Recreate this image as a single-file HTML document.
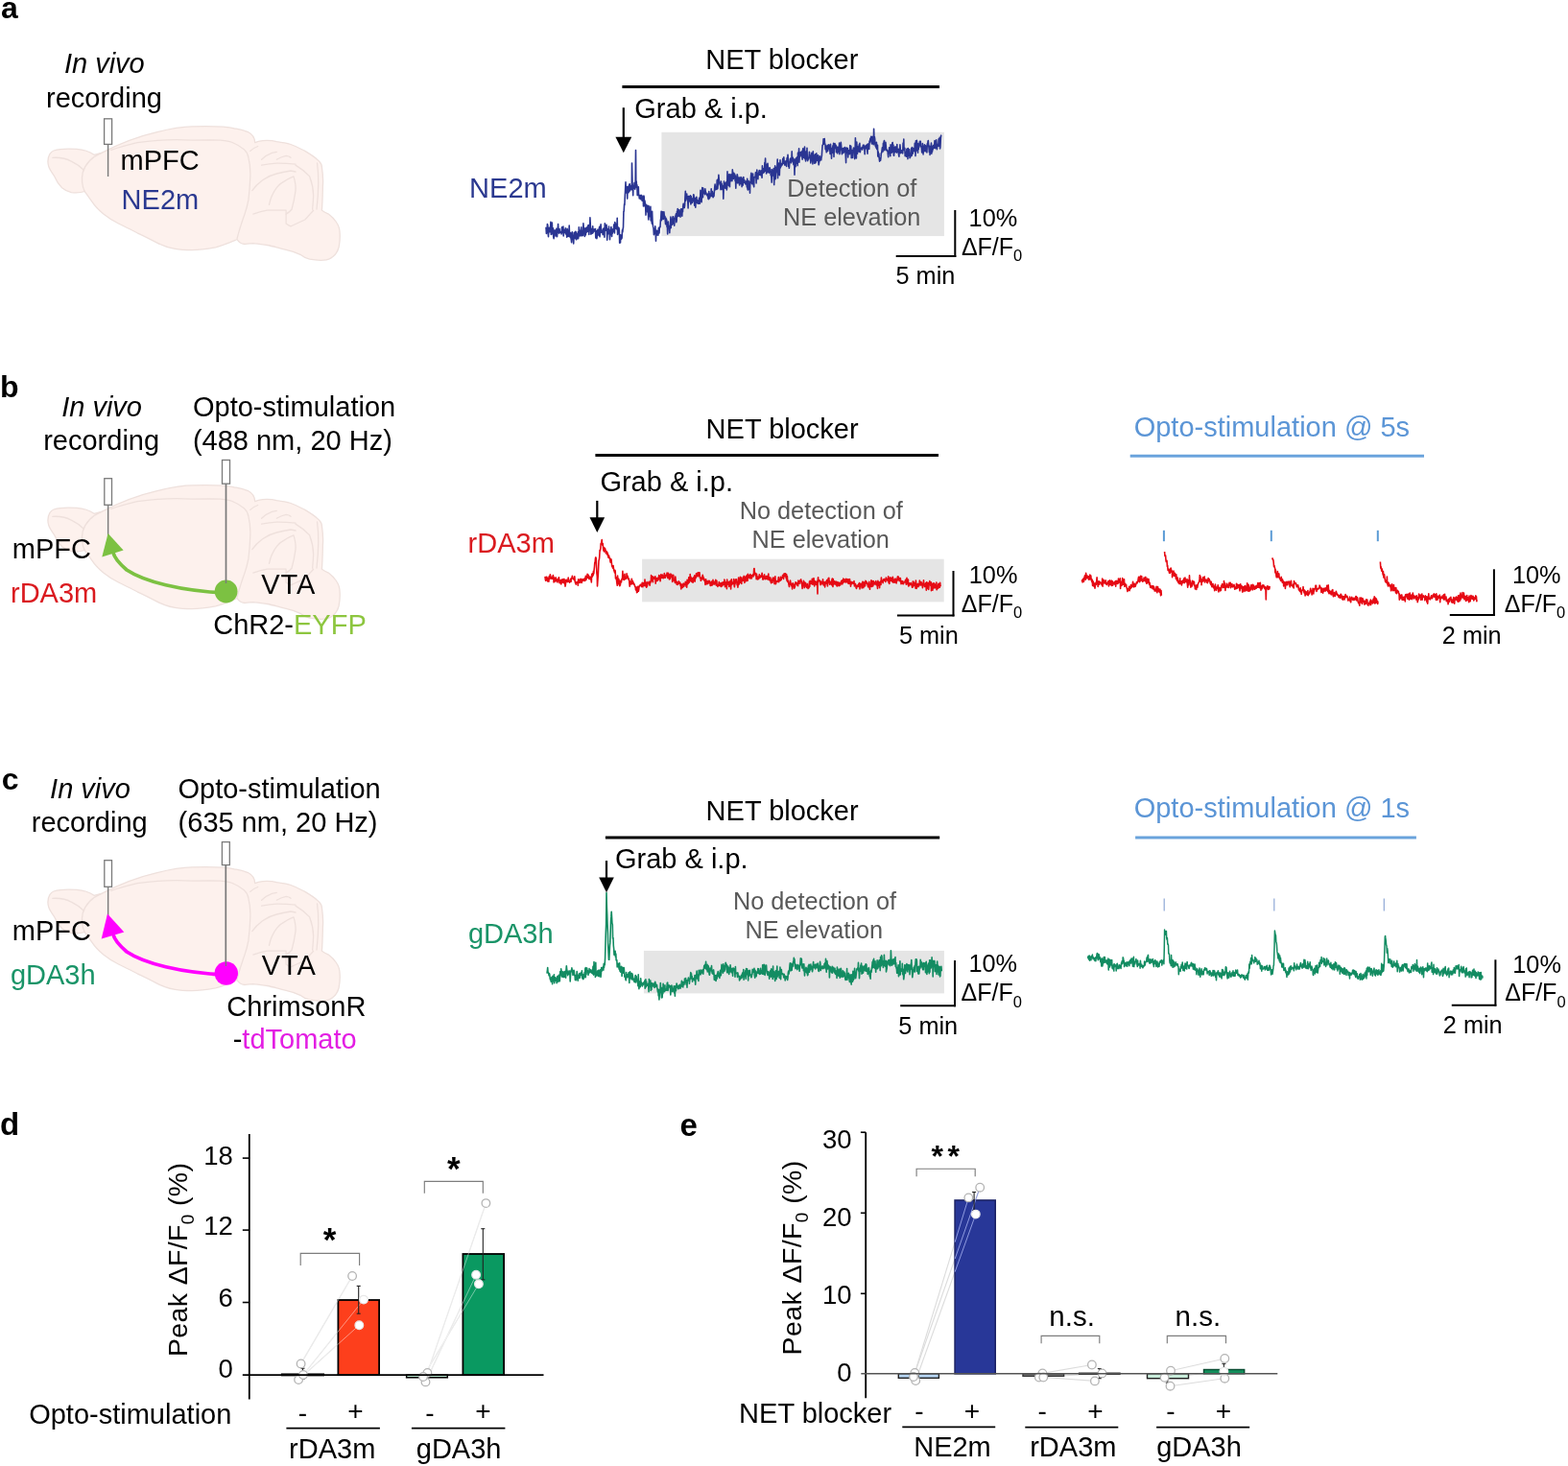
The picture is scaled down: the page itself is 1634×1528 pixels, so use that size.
<!DOCTYPE html>
<html><head><meta charset="utf-8"><title>Figure</title>
<style>html,body{margin:0;padding:0;background:#fff;}svg{display:block;}</style>
</head><body>
<svg width="1634" height="1528" viewBox="0 0 1634 1528" font-family="Liberation Sans, Arial, Helvetica, sans-serif" font-size="29">
<rect width="1634" height="1528" fill="#fff"/>
<text x="1.1" y="19.0" font-size="32" font-weight="bold">a</text>
<g transform="translate(0,0)"><g fill="#fdf1ed" stroke="#eee0dc" stroke-width="1.3" stroke-linejoin="round" stroke-linecap="round">
<path d="M49.9,168.2 C50,162 53,158 56,157 C62,155 72,154.8 80,155.4 C88,156 94,158.5 98,161.3 L105.8,159.3 C120,152 140,143 162.8,137.8 C178,134 190,132 200,131.9 C215,131.5 235,131.5 244.2,133.8 C252,135.5 257,136.5 258.9,137.8 C263,140 265.5,144 265.7,148.6 C268,147.5 271,146.8 273.6,146.6 C280,146.2 286,147 288.3,147.6 C295,148.5 299,149.3 303,150.5 C310,153 314,155.5 317.8,157.4 C323,160.5 327,163 330.5,166.2 C334,169 335.5,171 335.4,174.1 C336.5,182 336.8,190 336.4,193.7 C336.2,202 336,212 335.4,219.2 C338,221 340,222 342.3,223.1 C346,226 348,228 350.1,231 C353,235 354,239 354.1,242.8 C354.5,248 354,253 353.1,257.5 C352,262 350,265 347.2,267.3 C344,270 341,271 337.4,271.2 C332,271.5 327,271 322.7,270.2 C318,269 315,267 312.9,265.3 C308,263 303,261.5 298.1,260.4 C290,258.5 284,256.5 278.5,255.5 C272,254.5 268,253.8 263.8,253.6 C260,253.7 257,254.2 255,254.5 C251,254 248.5,252 247,249.5 C241,252 232,256 224.5,257.8 C215,259.5 207,260.5 200,260.6 C192,260.6 187,260.2 182.4,259.4 C175,258 168,255.5 162.8,252.6 C155,248.5 149,245.5 143.1,242.8 C136,239 129,236 123.5,233 C117,230 112,226.5 107.8,223.1 C103,219 99,215 96,210.4 C93,206.5 90.5,202.5 88.2,199.5 C84,201 80,201.2 74.4,200.6 C70,199.5 67,197.8 64.6,195.7 C61,192 58.5,188 56.8,183.9 C54,180 52,177 50.9,174.1 C50.2,172 49.9,170 49.9,168.2 Z"/>
<g fill="none">
<path d="M105.8,159.3 C97,163 89,170 86.2,180 C84.8,187 85.5,194 88.2,199.5"/>
<path d="M54.8,164.3 C62,164 70,165.5 74.4,168.2 C80,171 84,174 87,177"/>
<path d="M115.7,156.4 C125,153 135,150.5 143.1,148.6 C165,145.5 185,145 200,146.1 C215,146 225,146 229.4,146.1 C236,146.5 241,147.5 244.2,149.5 C248,151 251,153 254,155.4 C257,158 258.5,161 258.9,164.3 C261,172 261,178 260.8,183.9 C260.5,193 259.8,201 258.9,208.4 C257.8,214 256.5,219 255,223.1 C253,229 250,237 247.1,248.5"/>
<path d="M260.8,157.4 C263,155 266,153.5 268.7,152.5"/>
<path d="M262.8,198.6 C266,194 270,190.5 273.6,187.8 C279,184 284,182 288.3,181 C294,179.5 299,178.5 303,178 L308,179"/>
<path d="M280.5,213.3 C282,206 285,200 288.3,195.7 C291,192 294.5,189.5 298.1,187.8 C301,186 303.5,184.8 306,183.9 C307.5,189 308.5,194 308,198.6 C307,206 305.5,213 304,218.2 C302,220.5 300,222 298.1,223.1"/>
<path d="M263.8,223.1 C270,221 275,219.8 278.5,219.2 C285,219 292,219 298.1,219.2 L298.1,233 C300,234.5 301.5,235.5 303,235.9 C308,233.5 313,231 317.8,229 C321,226 324,222 326.6,219.2"/>
<path d="M308,172.1 C313,175 318,179 322.7,183.9 C325,190 326.5,197 326.6,203.5 C326.5,209 326,214 325.6,218.2"/>
<path d="M272.6,166.2 C276,163 280,160.5 283.4,159.3 L288.3,158.4"/>
<path d="M288.3,166.2 C291,164.5 295,163 298.1,162.3 C300,162.5 302,163.3 303,164.3"/>
<path d="M272.6,172.1 C278,171 283,170.3 288.3,170.1 C295,170 302,170.5 308,171.1"/>
<path d="M330.5,170 C332,180 332,200 330,218"/>
</g></g></g>
<text x="66.9" y="76.0" font-style="italic">In vivo</text>
<text x="48.0" y="111.8">recording</text>
<rect x="108.6" y="123.8" width="8.0" height="26.60000000000001" fill="#fff" stroke="#7a7a7a" stroke-width="1.3"/>
<line x1="112.6" y1="150.4" x2="112.6" y2="184" stroke="#7a7a7a" stroke-width="1.4"/>
<text x="125.5" y="177.0">mPFC</text>
<text x="126.6" y="218.1" fill="#2b3990">NE2m</text>
<text x="735.3" y="72.0">NET blocker</text>
<line x1="648.4" y1="90.5" x2="979" y2="90.5" stroke="#000" stroke-width="3"/>
<text x="661.3" y="123.2">Grab &amp; i.p.</text>
<rect x="689.4" y="137.8" width="294.5" height="108.3" fill="#e5e5e5"/>
<text x="820.3" y="204.8" font-size="25.3" fill="#595959">Detection of</text>
<text x="816.0" y="235.0" font-size="25.3" fill="#595959">NE elevation</text>
<text x="489.1" y="206.4" fill="#2b3990">NE2m</text>
<path d="M569.0,236.7 569.4,243.4 569.7,240.8 570.1,240.7 570.4,233.6 570.8,234.6 571.1,243.2 571.5,246.6 571.8,238.2 572.2,237.3 572.5,241.1 572.9,241.7 573.2,241.7 573.6,237.4 573.9,231.4 574.3,244.5 574.6,237.0 575.0,244.1 575.3,232.0 575.7,241.9 576.0,239.3 576.4,237.9 576.7,246.7 577.1,248.6 577.4,241.7 577.8,246.6 578.1,239.8 578.5,241.4 578.8,242.6 579.2,242.0 579.5,245.6 579.9,238.3 580.2,246.6 580.6,246.5 580.9,241.9 581.3,238.1 581.6,233.5 582.0,242.5 582.3,240.0 582.7,243.1 583.0,238.5 583.4,242.4 583.7,241.8 584.1,241.6 584.4,242.2 584.8,241.8 585.1,244.0 585.5,236.9 585.8,242.4 586.2,240.2 586.5,238.1 586.9,236.1 587.2,246.0 587.6,241.8 587.9,239.5 588.3,242.3 588.6,242.5 589.0,240.8 589.3,237.8 589.7,243.9 590.0,242.8 590.4,242.4 590.7,247.3 591.1,238.4 591.4,239.7 591.8,244.0 592.1,246.5 592.5,245.7 592.8,246.2 593.2,235.1 593.5,245.8 593.9,245.9 594.2,247.4 594.6,242.6 594.9,247.7 595.3,250.0 595.6,252.7 596.0,247.7 596.3,241.7 596.7,247.1 597.0,249.3 597.4,248.7 597.7,254.0 598.1,245.7 598.4,242.4 598.8,243.7 599.1,248.5 599.5,242.6 599.8,241.4 600.2,242.0 600.5,249.8 600.9,246.0 601.2,243.9 601.6,248.7 601.9,248.3 602.3,241.9 602.6,248.6 603.0,246.0 603.3,236.7 603.7,239.8 604.0,245.1 604.4,245.8 604.7,242.8 605.1,240.0 605.4,244.9 605.8,236.9 606.1,245.9 606.5,242.9 606.8,243.0 607.2,240.2 607.5,245.4 607.9,232.7 608.2,238.0 608.6,243.3 608.9,238.1 609.3,246.4 609.6,242.4 610.0,237.8 610.3,244.9 610.7,240.1 611.0,242.4 611.4,237.3 611.7,236.9 612.1,241.4 612.4,238.7 612.8,235.1 613.1,234.5 613.5,240.2 613.8,244.5 614.2,234.5 614.5,240.5 614.9,226.7 615.2,232.7 615.6,240.6 615.9,244.2 616.3,238.5 616.6,240.6 617.0,239.9 617.3,243.3 617.7,235.7 618.0,242.7 618.4,238.9 618.7,239.6 619.1,241.1 619.4,240.6 619.8,238.7 620.1,240.9 620.5,238.5 620.8,248.0 621.2,245.1 621.5,240.9 621.9,248.6 622.2,247.2 622.6,243.8 622.9,239.4 623.3,241.9 623.6,242.6 624.0,245.1 624.3,238.4 624.7,236.3 625.0,246.8 625.4,242.9 625.7,238.6 626.1,233.9 626.4,239.5 626.8,242.3 627.1,241.3 627.5,242.4 627.8,240.0 628.2,244.8 628.5,238.4 628.9,239.1 629.2,238.7 629.6,237.8 629.9,247.3 630.3,232.9 630.6,240.1 631.0,235.4 631.3,234.7 631.7,240.3 632.0,234.4 632.4,240.6 632.7,250.2 633.1,241.2 633.4,243.5 633.8,238.5 634.1,243.7 634.5,236.1 634.8,242.6 635.2,241.2 635.5,249.8 635.9,240.9 636.2,239.8 636.6,239.0 636.9,236.6 637.3,244.1 637.6,246.5 638.0,239.2 638.3,243.1 638.7,238.7 639.0,241.4 639.4,241.5 639.7,234.1 640.1,236.6 640.4,243.0 640.8,231.6 641.1,238.5 641.5,236.4 641.8,233.3 642.2,236.7 642.5,237.9 642.9,239.1 643.2,227.2 643.6,244.4 643.9,236.5 644.3,242.9 644.6,238.9 645.0,237.6 645.3,240.1 645.7,253.3 646.0,247.7 646.5,253.0 646.7,244.7 647.1,249.6 647.4,249.1 647.8,248.9 648.1,247.8 648.5,239.7 648.8,242.0 649.2,238.2 649.5,237.1 649.9,220.6 650.2,220.2 650.6,212.9 650.9,213.5 651.3,203.9 651.6,197.8 652.0,189.9 652.3,198.9 652.7,197.1 653.0,201.1 653.4,194.8 653.7,207.1 654.1,194.2 654.4,198.8 654.8,198.2 655.1,200.6 655.5,195.3 655.8,192.1 656.2,191.8 656.5,198.9 656.9,196.3 657.2,197.5 657.6,193.2 657.9,197.1 658.3,197.6 658.5,170.0 659.0,191.1 659.3,193.8 659.7,203.6 660.0,195.3 660.4,196.3 660.7,194.9 661.1,190.5 661.4,191.9 661.8,197.3 662.1,193.1 662.5,156.5 662.8,190.4 663.2,189.0 663.5,195.5 663.9,192.8 664.2,203.6 664.6,197.2 664.9,201.6 665.3,194.8 665.6,203.6 666.0,204.1 666.3,206.9 666.7,203.5 667.0,205.1 667.4,204.3 667.7,207.8 668.1,203.2 668.4,207.5 668.8,203.7 669.1,209.3 669.5,206.0 669.8,205.2 670.2,205.8 670.5,215.0 670.9,204.0 671.2,205.3 671.6,214.6 671.9,209.1 672.3,212.0 672.6,212.6 673.0,224.1 673.3,213.2 673.7,213.7 674.0,215.8 674.4,219.1 674.7,221.0 675.1,214.2 675.4,222.4 675.8,229.0 676.1,214.9 676.5,224.6 676.8,225.7 677.2,223.7 677.5,223.1 677.9,215.3 678.2,229.9 678.6,224.8 678.9,226.2 679.3,232.9 679.6,220.3 680.0,230.6 680.3,234.7 680.7,236.7 681.0,237.8 681.4,244.7 681.7,239.2 682.1,243.3 682.4,243.5 682.8,235.8 683.1,239.6 683.5,251.2 683.8,242.7 684.2,244.2 684.5,240.2 684.9,244.9 685.2,240.8 685.6,242.2 685.9,245.2 686.3,238.2 686.6,237.2 687.0,243.0 687.3,237.9 687.7,236.3 688.0,236.6 688.4,229.0 688.7,228.2 689.1,220.3 689.4,229.7 689.8,224.4 690.1,224.2 690.5,220.7 690.8,228.0 691.2,228.5 691.5,227.3 691.9,220.9 692.2,224.2 692.6,227.8 692.9,225.2 693.3,230.5 693.6,233.6 694.0,227.4 694.3,230.4 694.7,229.1 695.0,236.5 695.4,236.6 695.7,244.0 696.1,234.2 696.4,231.1 696.8,237.0 697.1,235.2 697.5,237.6 697.8,242.6 698.2,235.5 698.5,238.3 698.9,226.1 699.2,237.4 699.6,232.7 699.9,230.1 700.3,228.0 700.6,234.3 701.0,226.1 701.3,232.9 701.7,225.8 702.0,227.9 702.4,228.9 702.7,235.3 703.1,228.1 703.4,227.8 703.8,226.2 704.1,224.7 704.5,222.9 704.8,231.6 705.2,229.5 705.5,220.4 705.9,223.2 706.2,217.5 706.6,225.5 706.9,224.4 707.3,222.2 707.6,218.8 708.0,225.3 708.3,225.1 708.7,222.4 709.0,226.1 709.4,218.0 709.7,220.4 710.1,217.9 710.4,220.7 710.8,225.3 711.1,217.6 711.5,220.6 711.8,214.8 712.2,212.2 712.5,216.7 712.9,213.9 713.2,216.5 713.6,214.1 713.9,206.5 714.3,199.3 714.6,209.3 715.0,203.7 715.3,202.4 715.7,202.0 716.0,205.6 716.4,207.7 716.7,208.8 717.1,217.0 717.4,204.5 717.8,209.3 718.1,204.5 718.5,205.4 718.8,209.4 719.2,210.6 719.5,203.8 719.9,213.0 720.2,204.6 720.6,211.8 720.9,207.7 721.3,211.3 721.6,209.9 722.0,206.6 722.3,209.6 722.7,202.7 723.0,203.1 723.4,207.1 723.7,214.2 724.1,206.3 724.4,207.1 724.8,216.1 725.1,209.7 725.5,209.5 725.8,205.2 726.2,209.4 726.5,211.4 726.9,208.9 727.2,212.2 727.6,210.0 727.9,212.3 728.3,210.8 728.6,206.4 729.0,209.5 729.3,212.2 729.7,205.3 730.0,198.4 730.4,203.0 730.7,200.6 731.1,210.8 731.4,203.1 731.8,195.5 732.1,198.7 732.5,205.8 732.8,196.1 733.2,199.2 733.5,201.4 733.9,201.1 734.2,199.5 734.6,202.6 734.9,196.8 735.3,200.3 735.6,200.5 736.0,202.0 736.3,202.3 736.7,203.6 737.0,202.4 737.4,202.2 737.7,205.2 738.1,207.4 738.4,207.6 738.8,199.5 739.1,204.9 739.5,206.6 739.8,202.4 740.2,205.0 740.5,202.1 740.9,204.3 741.2,196.8 741.6,204.4 741.9,200.6 742.3,199.5 742.6,201.0 743.0,205.8 743.3,205.4 743.7,202.4 744.0,204.5 744.4,199.3 744.7,195.7 745.1,192.1 745.4,197.8 745.8,196.0 746.1,195.4 746.5,194.3 746.8,197.5 747.2,188.0 747.5,187.3 747.9,196.8 748.2,192.7 748.6,188.8 748.9,182.4 749.3,187.3 749.6,189.6 750.0,191.2 750.3,192.8 750.7,191.7 751.0,197.6 751.4,189.0 751.7,192.9 752.1,191.6 752.4,197.5 752.8,195.2 753.1,196.9 753.5,193.5 753.8,207.3 754.2,195.1 754.5,189.1 754.9,192.0 755.2,190.6 755.6,195.3 755.9,196.2 756.3,194.0 756.6,191.7 757.0,189.6 757.3,198.0 757.7,195.4 758.0,178.9 758.4,189.7 758.7,185.3 759.1,186.2 759.4,193.5 759.8,181.8 760.1,181.5 760.5,194.7 760.8,182.9 761.2,183.6 761.5,188.7 761.9,181.9 762.2,183.7 762.6,184.1 762.9,188.8 763.3,176.9 763.6,179.9 764.0,182.6 764.3,186.5 764.7,180.4 765.0,184.7 765.4,181.0 765.7,181.7 766.1,188.6 766.4,183.1 766.8,196.2 767.1,186.8 767.5,190.6 767.8,190.0 768.2,181.9 768.5,182.7 768.9,191.0 769.2,184.9 769.6,187.1 769.9,187.7 770.3,185.1 770.6,193.0 771.0,191.2 771.3,188.7 771.7,190.2 772.0,184.6 772.4,191.7 772.7,185.1 773.1,194.6 773.4,186.0 773.8,186.5 774.1,193.1 774.5,190.9 774.8,184.5 775.2,190.4 775.5,187.8 775.9,187.8 776.2,190.2 776.6,190.2 776.9,191.9 777.3,190.1 777.6,189.8 778.0,188.5 778.3,195.0 778.7,186.3 779.0,196.9 779.4,197.9 779.7,197.7 780.1,188.5 780.4,197.0 780.8,193.1 781.1,192.7 781.5,201.3 781.8,189.3 782.2,190.9 782.5,183.8 782.9,180.2 783.2,190.0 783.6,190.6 783.9,191.8 784.3,190.1 784.6,181.1 785.0,190.2 785.3,193.1 785.7,194.7 786.0,184.7 786.4,184.5 786.7,184.8 787.1,184.3 787.4,179.8 787.8,182.7 788.1,191.0 788.5,180.3 788.8,177.0 789.2,183.1 789.5,182.2 789.9,186.6 790.2,180.6 790.6,182.2 790.9,178.9 791.3,177.6 791.6,182.2 792.0,180.9 792.3,180.3 792.7,182.7 793.0,177.7 793.4,181.2 793.7,181.8 794.1,185.3 794.4,172.8 794.8,178.1 795.1,180.4 795.5,175.7 795.8,177.7 796.2,179.6 796.5,178.4 796.9,169.6 797.2,171.5 797.6,165.0 797.9,178.5 798.3,176.7 798.6,181.0 799.0,175.8 799.3,171.0 799.7,179.6 800.0,170.2 800.4,175.4 800.7,174.7 801.1,179.0 801.4,180.1 801.8,175.4 802.1,174.8 802.5,177.9 802.8,176.3 803.2,182.7 803.5,180.7 803.9,185.0 804.2,190.1 804.6,176.8 804.9,178.3 805.3,183.0 805.6,183.1 806.0,180.6 806.3,175.6 806.7,192.6 807.0,183.1 807.4,178.3 807.7,172.9 808.1,186.8 808.4,181.6 808.8,179.4 809.1,174.3 809.5,177.0 809.8,175.0 810.2,166.0 810.5,185.7 810.9,176.4 811.2,172.9 811.6,170.1 811.9,171.1 812.3,182.6 812.6,174.1 813.0,166.7 813.3,174.9 813.7,173.1 814.0,173.2 814.4,170.6 814.7,170.5 815.1,171.9 815.4,170.1 815.8,165.3 816.1,166.7 816.5,170.4 816.8,163.8 817.2,169.3 817.5,168.3 817.9,172.2 818.2,169.8 818.6,168.0 818.9,168.1 819.3,171.2 819.6,173.4 820.0,165.8 820.3,164.2 820.7,167.5 821.0,161.4 821.4,167.2 821.7,173.4 822.1,173.6 822.4,175.3 822.8,169.0 823.1,168.8 823.5,165.3 823.8,165.1 824.2,167.8 824.5,169.8 824.9,167.6 825.2,157.9 825.6,167.9 825.9,166.2 826.3,164.4 826.6,167.9 827.0,171.6 827.3,169.1 827.7,166.0 828.0,182.2 828.4,166.6 828.7,170.8 829.1,173.7 829.4,165.1 829.8,170.3 830.1,164.4 830.5,166.1 830.8,163.5 831.2,172.6 831.5,159.3 831.9,165.9 832.2,163.3 832.6,154.9 832.9,169.2 833.3,160.0 833.6,161.2 834.0,163.0 834.3,158.6 834.7,158.9 835.0,161.6 835.4,158.1 835.7,161.8 836.1,166.2 836.4,157.1 836.8,154.9 837.1,160.8 837.5,163.2 837.8,164.5 838.2,157.8 838.5,153.1 838.9,165.8 839.2,165.0 839.6,168.0 839.9,158.0 840.3,163.8 840.6,165.4 841.0,154.3 841.3,165.8 841.7,167.6 842.0,164.6 842.4,164.7 842.7,165.9 843.1,162.3 843.4,158.2 843.8,160.7 844.1,164.2 844.5,162.1 844.8,170.0 845.2,164.7 845.5,166.0 845.9,159.4 846.2,167.6 846.6,162.9 846.9,171.0 847.3,157.7 847.6,165.2 848.0,162.0 848.3,162.0 848.7,170.1 849.0,167.5 849.4,160.7 849.7,170.0 850.1,162.5 850.4,169.0 850.8,159.8 851.1,166.1 851.5,166.8 851.8,167.1 852.2,162.6 852.5,161.8 852.9,169.4 853.2,171.8 853.6,169.3 853.9,167.6 854.3,162.8 854.6,167.4 855.0,165.9 855.3,164.8 855.7,166.8 856.0,164.0 856.4,162.0 856.7,156.5 857.1,151.4 857.4,151.2 857.8,150.0 858.1,144.9 858.5,150.2 858.8,145.4 859.2,144.5 859.5,149.3 859.9,150.2 860.2,155.6 860.6,151.8 860.9,155.1 861.3,158.8 861.6,153.8 862.0,155.1 862.3,151.2 862.7,157.4 863.0,154.8 863.4,155.2 863.7,150.8 864.1,151.8 864.4,153.1 864.8,156.3 865.1,160.4 865.5,150.3 865.8,154.8 866.2,155.1 866.5,165.2 866.9,155.5 867.2,154.2 867.6,159.2 867.9,151.9 868.3,158.2 868.6,149.4 869.0,163.5 869.3,155.1 869.7,153.3 870.0,149.5 870.4,153.8 870.7,154.5 871.1,151.2 871.4,158.7 871.8,152.8 872.1,154.6 872.5,155.5 872.8,159.9 873.2,153.4 873.5,155.5 873.9,156.7 874.2,158.3 874.6,149.0 874.9,160.7 875.3,155.8 875.6,153.4 876.0,156.0 876.3,148.4 876.7,152.8 877.0,156.4 877.4,160.8 877.7,155.2 878.1,157.1 878.4,154.6 878.8,159.4 879.1,154.8 879.5,158.6 879.8,155.8 880.2,153.5 880.5,153.5 880.9,154.8 881.2,161.8 881.6,169.6 881.9,156.2 882.3,154.0 882.6,158.9 883.0,158.6 883.3,154.5 883.7,163.9 884.0,159.8 884.4,160.0 884.7,156.7 885.1,157.1 885.4,160.6 885.8,151.6 886.1,154.3 886.5,158.1 886.8,152.4 887.2,164.8 887.5,156.2 887.9,157.0 888.2,160.0 888.6,164.5 888.9,158.2 889.3,155.1 889.6,154.1 890.0,158.3 890.3,154.7 890.7,165.8 891.0,161.2 891.4,143.8 891.7,152.5 892.1,157.5 892.4,165.0 892.8,148.0 893.1,154.0 893.5,160.3 893.8,152.8 894.2,155.7 894.5,153.4 894.9,157.9 895.2,150.9 895.6,155.1 895.9,149.2 896.3,158.6 896.6,157.2 897.0,154.7 897.3,155.1 897.7,155.2 898.0,153.6 898.4,155.5 898.7,156.0 899.1,153.9 899.4,151.4 899.8,151.6 900.1,151.1 900.5,154.4 900.8,153.3 901.2,160.6 901.5,152.6 901.9,154.0 902.2,151.6 902.6,154.7 902.9,152.7 903.3,151.0 903.6,154.8 904.0,160.2 904.3,150.0 904.7,150.1 905.0,151.8 905.4,152.2 905.7,155.5 906.1,147.1 906.4,148.3 906.8,145.0 907.1,144.1 907.5,145.2 907.8,142.3 908.2,148.0 908.5,150.0 908.9,143.5 909.2,142.4 909.6,149.8 909.9,143.6 910.3,150.8 910.6,134.3 911.0,145.4 911.3,142.5 911.7,144.9 912.0,150.8 912.4,152.6 912.7,148.7 913.1,154.3 913.4,148.2 913.8,155.5 914.1,155.7 914.5,151.3 914.8,162.9 915.2,158.0 915.5,163.5 915.9,160.1 916.2,165.0 916.6,168.1 916.9,167.1 917.3,164.6 917.6,167.2 918.0,163.9 918.3,159.7 918.7,159.5 919.0,157.0 919.4,153.9 919.7,156.5 920.1,157.9 920.4,149.2 920.8,150.8 921.1,147.8 921.5,146.6 921.8,156.7 922.2,150.1 922.5,154.5 922.9,148.4 923.2,151.6 923.6,156.3 923.9,156.7 924.3,156.1 924.6,157.2 925.0,157.0 925.3,160.5 925.7,163.6 926.0,159.5 926.4,157.2 926.7,153.8 927.1,155.9 927.4,156.3 927.8,162.8 928.1,150.7 928.5,153.2 928.8,152.0 929.2,159.2 929.5,153.2 929.9,149.0 930.2,148.5 930.6,158.1 930.9,151.0 931.3,162.0 931.6,162.2 932.0,153.8 932.3,157.1 932.7,158.6 933.0,152.7 933.4,153.6 933.7,155.9 934.1,158.0 934.4,159.1 934.8,150.5 935.1,158.5 935.5,157.0 935.8,156.3 936.2,155.4 936.5,161.2 936.9,163.2 937.2,155.2 937.6,156.3 937.9,150.7 938.3,155.4 938.6,159.7 939.0,156.8 939.3,158.7 939.7,156.9 940.0,157.7 940.4,159.7 940.7,159.9 941.1,149.1 941.4,155.6 941.8,145.0 942.1,156.4 942.5,154.3 942.8,154.2 943.2,162.8 943.5,158.2 943.9,161.2 944.2,159.2 944.6,163.1 944.9,155.4 945.3,155.2 945.6,155.7 946.0,165.6 946.3,154.5 946.7,156.6 947.0,162.2 947.4,160.9 947.7,155.7 948.1,164.8 948.4,160.0 948.8,163.7 949.1,160.2 949.5,160.5 949.8,154.2 950.2,162.2 950.5,153.6 950.9,156.4 951.2,160.2 951.6,154.6 951.9,156.3 952.3,155.8 952.6,156.2 953.0,157.7 953.3,149.3 953.7,152.8 954.0,162.6 954.4,146.7 954.7,151.5 955.1,156.9 955.4,146.4 955.8,150.0 956.1,150.1 956.5,159.3 956.8,149.8 957.2,155.7 957.5,150.8 957.9,153.3 958.2,148.7 958.6,147.3 958.9,151.0 959.3,147.3 959.6,151.9 960.0,153.0 960.3,154.3 960.7,159.0 961.0,159.0 961.4,149.6 961.7,151.3 962.1,160.9 962.4,154.1 962.8,152.5 963.1,157.8 963.5,150.8 963.8,156.5 964.2,151.5 964.5,157.7 964.9,152.0 965.2,155.8 965.6,156.8 965.9,159.0 966.3,149.7 966.6,151.4 967.0,147.5 967.3,146.5 967.7,151.5 968.0,154.2 968.4,158.6 968.7,152.2 969.1,161.4 969.4,154.6 969.8,157.4 970.1,153.0 970.5,149.1 970.8,160.2 971.2,152.9 971.5,158.3 971.9,152.4 972.2,155.8 972.6,152.5 972.9,151.3 973.3,151.5 973.6,154.3 974.0,146.5 974.3,147.2 974.7,154.6 975.0,147.9 975.4,151.5 975.7,145.7 976.1,150.3 976.4,155.7 976.8,151.9 977.1,152.6 977.5,150.4 977.8,152.2 978.2,144.7 978.5,144.9 978.9,152.4 979.2,143.4 979.6,155.0 979.9,153.0 980.3,145.0 980.6,141.3 981.0,140.6" fill="none" stroke="#2a3592" stroke-width="1.6" stroke-linejoin="round"/>
<line x1="649.8" y1="112.2" x2="649.8" y2="143.8" stroke="#000" stroke-width="2.2"/>
<path d="M641.4,142.8 L658.2,142.8 L649.8,159.3 Z" fill="#000"/>
<line x1="995.3" y1="219" x2="995.3" y2="268" stroke="#000" stroke-width="2"/>
<line x1="933.7" y1="267" x2="996.3" y2="267" stroke="#000" stroke-width="2"/>
<text x="1009.6" y="236.2" font-size="25.3">10%</text>
<text x="1001.9" y="266.0" font-size="25">ΔF/F<tspan font-size="16.5" dy="6.2">0</tspan></text>
<text x="933.5" y="296.0" font-size="25.3">5 min</text>
<text x="-0.1" y="414.0" font-size="32" font-weight="bold">b</text>
<g transform="translate(0,374)"><g fill="#fdf1ed" stroke="#eee0dc" stroke-width="1.3" stroke-linejoin="round" stroke-linecap="round">
<path d="M49.9,168.2 C50,162 53,158 56,157 C62,155 72,154.8 80,155.4 C88,156 94,158.5 98,161.3 L105.8,159.3 C120,152 140,143 162.8,137.8 C178,134 190,132 200,131.9 C215,131.5 235,131.5 244.2,133.8 C252,135.5 257,136.5 258.9,137.8 C263,140 265.5,144 265.7,148.6 C268,147.5 271,146.8 273.6,146.6 C280,146.2 286,147 288.3,147.6 C295,148.5 299,149.3 303,150.5 C310,153 314,155.5 317.8,157.4 C323,160.5 327,163 330.5,166.2 C334,169 335.5,171 335.4,174.1 C336.5,182 336.8,190 336.4,193.7 C336.2,202 336,212 335.4,219.2 C338,221 340,222 342.3,223.1 C346,226 348,228 350.1,231 C353,235 354,239 354.1,242.8 C354.5,248 354,253 353.1,257.5 C352,262 350,265 347.2,267.3 C344,270 341,271 337.4,271.2 C332,271.5 327,271 322.7,270.2 C318,269 315,267 312.9,265.3 C308,263 303,261.5 298.1,260.4 C290,258.5 284,256.5 278.5,255.5 C272,254.5 268,253.8 263.8,253.6 C260,253.7 257,254.2 255,254.5 C251,254 248.5,252 247,249.5 C241,252 232,256 224.5,257.8 C215,259.5 207,260.5 200,260.6 C192,260.6 187,260.2 182.4,259.4 C175,258 168,255.5 162.8,252.6 C155,248.5 149,245.5 143.1,242.8 C136,239 129,236 123.5,233 C117,230 112,226.5 107.8,223.1 C103,219 99,215 96,210.4 C93,206.5 90.5,202.5 88.2,199.5 C84,201 80,201.2 74.4,200.6 C70,199.5 67,197.8 64.6,195.7 C61,192 58.5,188 56.8,183.9 C54,180 52,177 50.9,174.1 C50.2,172 49.9,170 49.9,168.2 Z"/>
<g fill="none">
<path d="M105.8,159.3 C97,163 89,170 86.2,180 C84.8,187 85.5,194 88.2,199.5"/>
<path d="M54.8,164.3 C62,164 70,165.5 74.4,168.2 C80,171 84,174 87,177"/>
<path d="M115.7,156.4 C125,153 135,150.5 143.1,148.6 C165,145.5 185,145 200,146.1 C215,146 225,146 229.4,146.1 C236,146.5 241,147.5 244.2,149.5 C248,151 251,153 254,155.4 C257,158 258.5,161 258.9,164.3 C261,172 261,178 260.8,183.9 C260.5,193 259.8,201 258.9,208.4 C257.8,214 256.5,219 255,223.1 C253,229 250,237 247.1,248.5"/>
<path d="M260.8,157.4 C263,155 266,153.5 268.7,152.5"/>
<path d="M262.8,198.6 C266,194 270,190.5 273.6,187.8 C279,184 284,182 288.3,181 C294,179.5 299,178.5 303,178 L308,179"/>
<path d="M280.5,213.3 C282,206 285,200 288.3,195.7 C291,192 294.5,189.5 298.1,187.8 C301,186 303.5,184.8 306,183.9 C307.5,189 308.5,194 308,198.6 C307,206 305.5,213 304,218.2 C302,220.5 300,222 298.1,223.1"/>
<path d="M263.8,223.1 C270,221 275,219.8 278.5,219.2 C285,219 292,219 298.1,219.2 L298.1,233 C300,234.5 301.5,235.5 303,235.9 C308,233.5 313,231 317.8,229 C321,226 324,222 326.6,219.2"/>
<path d="M308,172.1 C313,175 318,179 322.7,183.9 C325,190 326.5,197 326.6,203.5 C326.5,209 326,214 325.6,218.2"/>
<path d="M272.6,166.2 C276,163 280,160.5 283.4,159.3 L288.3,158.4"/>
<path d="M288.3,166.2 C291,164.5 295,163 298.1,162.3 C300,162.5 302,163.3 303,164.3"/>
<path d="M272.6,172.1 C278,171 283,170.3 288.3,170.1 C295,170 302,170.5 308,171.1"/>
<path d="M330.5,170 C332,180 332,200 330,218"/>
</g></g></g>
<text x="64.2" y="434.0" font-style="italic">In vivo</text>
<text x="45.2" y="468.8">recording</text>
<text x="201.0" y="433.8">Opto-stimulation</text>
<text x="200.9" y="469.0">(488 nm, 20 Hz)</text>
<rect x="108.8" y="498.7" width="7.700000000000003" height="27.599999999999966" fill="#fff" stroke="#7a7a7a" stroke-width="1.3"/>
<line x1="112.65" y1="526.3" x2="112.65" y2="560" stroke="#7a7a7a" stroke-width="1.4"/>
<rect x="231.5" y="479.5" width="8.0" height="24.69999999999999" fill="#fff" stroke="#7a7a7a" stroke-width="1.3"/>
<line x1="235.5" y1="504.2" x2="235.5" y2="610" stroke="#7a7a7a" stroke-width="1.4"/>
<path d="M235.6,618 C188,616 150,606 132,594 C124,587 119,581 118,576" fill="none" stroke="#7cc142" stroke-width="3.8"/>
<path d="M112.6,556 L106.3,580.6 L128.6,573.6 Z" fill="#7cc142"/>
<circle cx="235.6" cy="616.5" r="11.9" fill="#7cc142"/>
<line x1="235.5" y1="504.2" x2="235.5" y2="608" stroke="#7a7a7a" stroke-width="1.4"/>
<text x="12.8" y="581.6">mPFC</text>
<text x="11.0" y="627.5" fill="#da1a1f">rDA3m</text>
<text x="272.2" y="618.5" letter-spacing="1">VTA</text>
<text x="222.2" y="660.9">ChR2-<tspan fill="#8dc63f">EYFP</tspan></text>
<text x="735.6" y="456.7">NET blocker</text>
<line x1="620.4" y1="474.6" x2="978" y2="474.6" stroke="#000" stroke-width="3"/>
<text x="625.4" y="511.8">Grab &amp; i.p.</text>
<text x="487.6" y="576.0" fill="#da1a1f">rDA3m</text>
<rect x="669.1" y="582.7" width="314.6" height="44.7" fill="#e5e5e5"/>
<text x="770.7" y="540.7" font-size="25.3" fill="#595959">No detection of</text>
<text x="783.5" y="570.5" font-size="25.3" fill="#595959">NE elevation</text>
<path d="M568.0,600.8 568.4,604.3 568.7,605.2 569.1,604.8 569.4,601.4 569.8,601.4 570.1,604.7 570.5,605.5 570.8,605.9 571.2,602.6 571.5,602.3 571.9,606.2 572.2,600.9 572.6,603.7 572.9,601.3 573.3,598.9 573.6,599.6 574.0,602.9 574.3,602.5 574.7,603.2 575.0,601.5 575.4,601.4 575.7,603.2 576.1,602.3 576.4,599.5 576.8,602.2 577.1,607.0 577.5,602.1 577.8,605.1 578.2,604.0 578.5,605.9 578.9,602.6 579.2,601.9 579.6,605.6 579.9,603.3 580.3,604.7 580.6,604.2 581.0,606.9 581.3,605.4 581.7,605.1 582.0,602.9 582.4,601.8 582.7,603.7 583.1,607.7 583.4,607.7 583.8,607.8 584.1,605.8 584.5,604.5 584.8,608.9 585.2,606.7 585.5,607.1 585.9,603.8 586.2,604.2 586.6,607.0 586.9,607.2 587.3,603.6 587.6,606.5 588.0,603.6 588.3,608.8 588.7,607.7 589.0,611.1 589.4,609.4 589.7,604.6 590.1,606.1 590.4,604.4 590.8,605.4 591.1,606.6 591.5,604.8 591.8,605.0 592.2,602.1 592.5,606.2 592.9,605.0 593.2,606.3 593.6,607.2 593.9,605.0 594.3,606.2 594.6,603.3 595.0,606.3 595.3,603.9 595.7,602.4 596.0,602.9 596.4,600.2 596.7,601.8 597.1,602.4 597.4,603.6 597.8,603.7 598.1,603.0 598.5,604.5 598.8,600.9 599.2,606.0 599.5,607.3 599.9,608.1 600.2,609.1 600.6,606.7 600.9,607.2 601.3,606.5 601.6,606.6 602.0,607.8 602.3,610.2 602.7,603.7 603.0,605.9 603.4,607.3 603.7,604.5 604.1,607.4 604.4,603.7 604.8,605.9 605.1,603.2 605.5,607.0 605.8,604.6 606.2,607.4 606.5,605.2 606.9,603.6 607.2,604.4 607.6,605.3 607.9,604.7 608.3,603.9 608.6,603.4 609.0,603.9 609.3,605.5 609.7,602.3 610.0,604.2 610.4,600.2 610.7,604.6 611.1,603.2 611.4,601.4 611.8,601.2 612.1,598.3 612.5,602.1 612.8,601.5 613.2,599.2 613.5,601.3 613.9,603.5 614.2,602.6 614.6,602.8 614.9,601.1 615.3,604.0 615.6,602.3 616.0,604.1 616.3,607.0 616.7,598.3 617.0,601.4 617.4,600.8 617.7,597.6 618.1,599.7 618.4,595.2 618.8,597.9 619.1,594.1 619.5,590.5 619.8,586.6 620.2,585.5 620.5,581.9 620.9,580.9 621.2,581.9 621.6,591.1 621.9,597.7 622.3,601.0 622.5,611.0 623.0,603.7 623.3,599.7 623.7,590.6 624.0,584.4 624.4,583.1 624.7,580.8 625.1,573.3 625.4,574.1 625.8,572.1 626.1,566.8 626.5,566.2 626.8,565.1 627.2,562.6 627.5,567.0 627.9,568.4 628.2,566.5 628.6,571.7 628.9,574.0 629.3,570.6 629.6,574.9 630.0,573.0 630.3,571.2 630.7,572.3 631.0,573.2 631.4,576.8 631.7,575.2 632.1,576.0 632.4,574.9 632.8,578.2 633.1,576.1 633.5,577.8 633.8,580.8 634.2,581.2 634.5,579.0 634.9,580.4 635.2,582.2 635.6,581.7 635.9,584.9 636.3,586.2 636.6,584.3 637.0,582.9 637.3,586.1 637.7,590.1 638.0,590.5 638.4,591.4 638.7,592.1 639.1,589.6 639.4,592.2 639.8,595.0 640.1,594.5 640.5,596.9 640.8,594.2 641.2,595.0 641.5,602.9 641.9,601.5 642.2,602.4 642.6,605.3 642.9,608.0 643.3,610.3 643.6,600.1 644.0,606.7 644.3,608.7 644.7,603.3 645.0,604.2 645.4,607.0 645.7,610.8 646.1,608.2 646.4,610.0 646.8,605.4 647.1,606.4 647.5,606.8 647.8,604.2 648.2,603.1 648.5,603.3 648.9,595.4 649.2,603.9 649.6,599.3 649.9,601.4 650.3,604.4 650.6,603.5 651.0,598.3 651.3,603.4 651.7,603.6 652.0,602.3 652.4,603.2 652.7,602.7 653.1,597.8 653.4,601.4 653.8,601.7 654.1,600.2 654.5,603.3 654.8,602.2 655.2,604.4 655.5,603.4 655.9,608.0 656.2,611.1 656.6,605.8 656.9,607.5 657.3,607.9 657.6,608.9 658.0,607.7 658.3,603.3 658.7,608.6 659.0,607.5 659.4,605.5 659.7,607.5 660.1,607.2 660.4,609.1 660.8,608.5 661.1,609.1 661.5,610.6 661.8,611.6 662.2,611.9 662.5,615.0 662.9,613.6 663.2,612.0 663.6,617.6 663.9,614.5 664.3,617.3 664.6,611.4 665.0,614.3 665.3,616.3 665.7,614.9 666.0,612.0 666.4,610.3 666.7,610.1 667.1,610.9 667.4,609.3 667.8,609.8 668.1,609.3 668.5,609.2 668.8,611.6 669.2,607.2 669.5,610.9 669.9,611.7 670.2,607.9 670.6,607.6 670.9,609.2 671.3,608.7 671.6,610.5 672.0,604.0 672.3,607.8 672.7,610.7 673.0,607.9 673.4,611.4 673.7,612.3 674.1,606.6 674.4,611.0 674.8,609.0 675.1,608.0 675.5,607.5 675.8,607.7 676.2,606.3 676.5,607.8 676.9,609.9 677.2,610.1 677.6,606.1 677.9,607.2 678.3,606.3 678.6,599.5 679.0,605.3 679.3,600.8 679.7,600.8 680.0,604.9 680.4,606.8 680.7,601.1 681.1,601.7 681.4,601.7 681.8,602.8 682.1,603.2 682.5,602.4 682.8,600.9 683.2,608.1 683.5,603.2 683.9,602.4 684.2,605.7 684.6,602.7 684.9,605.4 685.3,604.6 685.6,604.8 686.0,601.9 686.3,604.0 686.7,599.5 687.0,599.9 687.4,603.0 687.7,602.3 688.1,605.8 688.4,602.3 688.8,598.9 689.1,602.5 689.5,601.5 689.8,602.2 690.2,599.1 690.5,599.8 690.9,601.4 691.2,602.7 691.6,601.8 691.9,602.4 692.3,597.6 692.6,600.0 693.0,600.7 693.3,602.1 693.7,600.5 694.0,599.3 694.4,599.6 694.7,599.7 695.1,597.1 695.4,600.5 695.8,602.4 696.1,602.5 696.5,597.4 696.8,601.5 697.2,598.5 697.5,604.0 697.9,603.0 698.2,603.4 698.6,600.7 698.9,598.1 699.3,600.1 699.6,601.5 700.0,599.1 700.3,600.4 700.7,606.5 701.0,600.3 701.4,604.4 701.7,599.4 702.1,603.9 702.4,605.2 702.8,604.4 703.1,606.1 703.5,607.4 703.8,601.0 704.2,604.8 704.5,605.7 704.9,606.1 705.2,609.1 705.6,606.9 705.9,609.3 706.3,609.5 706.6,607.6 707.0,608.5 707.3,605.8 707.7,608.2 708.0,608.0 708.4,607.5 708.7,607.1 709.1,610.4 709.4,608.5 709.8,613.9 710.1,612.2 710.5,611.5 710.8,609.1 711.2,612.5 711.5,610.8 711.9,610.6 712.2,608.1 712.6,611.5 712.9,610.7 713.3,609.1 713.6,608.4 714.0,609.0 714.3,606.4 714.7,607.6 715.0,611.2 715.4,606.5 715.7,612.3 716.1,604.2 716.4,608.9 716.8,608.5 717.1,608.3 717.5,606.7 717.8,601.7 718.2,607.1 718.5,606.5 718.9,603.9 719.2,598.5 719.6,605.4 719.9,601.1 720.3,602.6 720.6,606.0 721.0,606.4 721.3,604.5 721.7,602.6 722.0,607.3 722.4,606.0 722.7,603.1 723.1,601.2 723.4,603.6 723.8,599.9 724.1,606.2 724.5,603.2 724.8,601.0 725.2,602.3 725.5,597.7 725.9,600.8 726.2,599.4 726.6,597.2 726.9,599.0 727.3,600.8 727.6,596.9 728.0,599.3 728.3,596.8 728.7,600.5 729.0,596.7 729.4,602.2 729.7,602.3 730.1,603.0 730.4,605.3 730.8,602.1 731.1,602.3 731.5,603.7 731.8,601.8 732.2,599.2 732.5,600.9 732.9,601.2 733.2,604.4 733.6,602.8 733.9,603.5 734.3,605.7 734.6,605.2 735.0,609.4 735.3,605.4 735.7,603.8 736.0,608.8 736.4,605.5 736.7,606.3 737.1,608.7 737.4,607.0 737.8,608.1 738.1,605.3 738.5,605.9 738.8,607.8 739.2,605.4 739.5,605.8 739.9,606.8 740.2,610.5 740.6,610.5 740.9,608.2 741.3,607.8 741.6,606.1 742.0,610.2 742.3,608.2 742.7,609.2 743.0,604.2 743.4,608.8 743.7,607.4 744.1,608.5 744.4,609.0 744.8,606.7 745.1,605.9 745.5,608.1 745.8,604.2 746.2,610.0 746.5,608.0 746.9,605.2 747.2,610.5 747.6,610.0 747.9,611.4 748.3,610.4 748.6,609.5 749.0,608.6 749.3,606.6 749.7,610.5 750.0,610.3 750.4,608.4 750.7,610.6 751.1,607.5 751.4,611.5 751.8,609.5 752.1,609.6 752.5,607.3 752.8,610.6 753.2,608.7 753.5,606.8 753.9,608.6 754.2,607.1 754.6,609.5 754.9,604.1 755.3,604.9 755.6,611.7 756.0,606.6 756.3,608.9 756.7,607.2 757.0,608.6 757.4,613.7 757.7,604.0 758.1,609.3 758.4,608.2 758.8,608.2 759.1,606.6 759.5,606.4 759.8,611.4 760.2,609.7 760.5,606.0 760.9,608.4 761.2,605.4 761.6,614.0 761.9,608.5 762.3,603.8 762.6,609.5 763.0,608.9 763.3,608.3 763.7,608.2 764.0,606.7 764.4,607.5 764.7,603.6 765.1,610.5 765.4,611.8 765.8,608.4 766.1,608.5 766.5,604.1 766.8,606.0 767.2,603.8 767.5,604.0 767.9,607.9 768.2,609.8 768.6,606.7 768.9,612.1 769.3,608.6 769.6,602.0 770.0,605.7 770.3,609.0 770.7,606.1 771.0,607.5 771.4,601.4 771.7,607.2 772.1,601.7 772.4,604.8 772.8,608.4 773.1,604.0 773.5,603.3 773.8,605.3 774.2,601.8 774.5,601.5 774.9,605.5 775.2,600.3 775.6,601.0 775.9,607.4 776.3,601.2 776.6,604.7 777.0,605.9 777.3,603.0 777.7,600.4 778.0,603.8 778.4,599.5 778.7,605.4 779.1,605.3 779.4,598.3 779.8,601.7 780.1,599.3 780.5,602.0 780.8,601.0 781.2,599.7 781.5,603.0 781.9,598.5 782.2,602.6 782.6,601.4 782.9,599.8 783.3,603.0 783.6,600.7 784.0,599.4 784.3,599.3 784.7,598.7 785.0,600.9 785.4,598.2 785.7,592.7 786.1,592.5 786.4,597.2 786.8,597.1 787.1,599.6 787.5,597.6 787.8,599.1 788.2,603.8 788.5,598.3 788.9,602.9 789.2,600.9 789.6,603.9 789.9,603.1 790.3,601.3 790.6,603.5 791.0,601.8 791.3,598.9 791.7,602.3 792.0,602.2 792.4,600.7 792.7,601.3 793.1,599.7 793.4,601.2 793.8,599.9 794.1,597.2 794.5,600.0 794.8,604.0 795.2,602.4 795.5,603.9 795.9,600.9 796.2,600.1 796.6,598.9 796.9,601.6 797.3,603.6 797.6,603.3 798.0,603.3 798.3,600.8 798.7,602.2 799.0,600.4 799.4,603.8 799.7,603.4 800.1,601.0 800.4,602.9 800.8,598.1 801.1,604.5 801.5,601.5 801.8,602.6 802.2,604.8 802.5,604.9 802.9,602.1 803.2,606.8 803.6,607.7 803.9,606.6 804.3,606.4 804.6,604.0 805.0,607.1 805.3,602.5 805.7,602.1 806.0,604.9 806.4,605.2 806.7,602.9 807.1,608.6 807.4,601.8 807.8,600.7 808.1,604.3 808.5,608.6 808.8,606.8 809.2,606.0 809.5,605.6 809.9,606.5 810.2,606.0 810.6,605.5 810.9,604.9 811.3,601.5 811.6,606.6 812.0,603.2 812.3,604.6 812.7,604.5 813.0,605.3 813.4,601.3 813.7,604.5 814.1,604.4 814.4,602.2 814.8,602.2 815.1,602.4 815.5,599.8 815.8,600.7 816.2,599.0 816.5,603.5 816.9,598.9 817.2,597.8 817.6,600.0 817.9,600.6 818.3,598.7 818.6,597.7 819.0,601.1 819.3,603.0 819.7,598.9 820.0,605.2 820.4,600.5 820.7,606.5 821.1,604.9 821.4,605.8 821.8,608.2 822.1,609.9 822.5,611.5 822.8,610.1 823.2,608.9 823.5,605.0 823.9,607.4 824.2,609.1 824.6,608.2 824.9,611.0 825.3,609.5 825.6,614.0 826.0,610.0 826.3,607.8 826.7,609.4 827.0,609.0 827.4,611.9 827.7,613.1 828.1,612.1 828.4,611.8 828.8,607.9 829.1,606.7 829.5,607.1 829.8,608.6 830.2,607.6 830.5,608.7 830.9,609.9 831.2,607.6 831.6,610.7 831.9,605.1 832.3,607.8 832.6,606.2 833.0,608.3 833.3,606.1 833.7,605.0 834.0,605.9 834.4,604.3 834.7,603.9 835.1,608.1 835.4,605.7 835.8,610.1 836.1,613.4 836.5,607.8 836.8,610.8 837.2,609.1 837.5,605.4 837.9,609.3 838.2,612.6 838.6,607.1 838.9,609.6 839.3,609.9 839.6,607.6 840.0,611.6 840.3,610.8 840.7,612.5 841.0,611.5 841.4,608.6 841.7,612.1 842.1,613.4 842.4,611.7 842.8,612.8 843.1,612.3 843.5,606.1 843.8,611.5 844.2,605.4 844.5,606.4 844.9,608.3 845.2,605.9 845.6,605.5 845.9,608.7 846.3,603.4 846.6,608.0 847.0,609.3 847.3,608.4 847.7,603.3 848.0,602.7 848.4,606.4 848.7,611.0 849.1,606.4 849.4,605.8 849.8,606.8 850.1,608.5 850.5,609.3 850.8,606.6 851.2,606.0 851.5,607.1 852.0,619.0 852.2,604.8 852.6,601.9 852.9,605.9 853.3,604.6 853.6,605.7 854.0,605.9 854.3,605.0 854.7,608.3 855.0,609.6 855.4,608.6 855.7,606.1 856.1,607.8 856.4,608.7 856.8,606.9 857.1,608.5 857.5,603.9 857.8,606.5 858.2,610.0 858.5,609.2 858.9,606.9 859.2,607.6 859.6,612.0 859.9,609.9 860.3,606.2 860.6,608.3 861.0,606.6 861.3,606.2 861.7,604.6 862.0,608.2 862.4,610.9 862.7,607.6 863.1,602.7 863.4,606.4 863.8,602.2 864.1,606.0 864.5,608.0 864.8,609.2 865.2,606.6 865.5,607.1 865.9,606.5 866.2,606.0 866.6,609.6 866.9,604.3 867.3,603.0 867.6,610.2 868.0,611.5 868.3,603.6 868.7,609.2 869.0,609.2 869.4,606.8 869.7,605.7 870.1,608.0 870.4,606.9 870.8,609.2 871.1,606.2 871.5,610.0 871.8,606.2 872.2,611.0 872.5,609.5 872.9,610.1 873.2,606.9 873.6,607.4 873.9,607.9 874.3,610.8 874.6,607.2 875.0,607.3 875.3,608.6 875.7,609.9 876.0,608.8 876.4,608.5 876.7,605.5 877.1,606.4 877.4,604.9 877.8,608.9 878.1,606.2 878.5,607.4 878.8,603.0 879.2,605.7 879.5,606.7 879.9,603.8 880.2,604.9 880.6,605.3 880.9,606.7 881.3,607.0 881.6,603.3 882.0,606.8 882.3,606.3 882.7,606.3 883.0,603.6 883.4,605.2 883.7,607.9 884.1,607.5 884.4,603.8 884.8,608.5 885.1,604.4 885.5,603.6 885.8,608.1 886.2,606.8 886.5,611.3 886.9,606.3 887.2,607.3 887.6,608.8 887.9,608.0 888.3,606.7 888.6,607.8 889.0,607.9 889.3,608.1 889.7,608.4 890.0,605.5 890.4,611.0 890.7,608.2 891.1,609.3 891.4,608.5 891.8,610.0 892.1,612.7 892.5,613.5 892.8,611.7 893.2,611.4 893.5,610.0 893.9,610.4 894.2,611.4 894.6,610.3 894.9,608.3 895.3,610.2 895.6,607.6 896.0,614.0 896.3,610.3 896.7,608.5 897.0,610.8 897.4,608.3 897.7,609.2 898.1,612.9 898.4,612.0 898.8,606.5 899.1,606.2 899.5,607.1 899.8,612.7 900.2,607.9 900.5,608.3 900.9,606.8 901.2,610.9 901.6,610.5 901.9,605.3 902.3,607.6 902.6,605.9 903.0,607.5 903.3,608.3 903.7,607.2 904.0,608.5 904.4,611.0 904.7,611.8 905.1,609.5 905.4,610.8 905.8,606.4 906.1,612.5 906.5,614.3 906.8,609.2 907.2,610.7 907.5,610.2 907.9,604.9 908.2,611.4 908.6,610.1 908.9,605.5 909.3,607.8 909.6,611.0 910.0,609.7 910.3,605.6 910.7,607.3 911.0,607.1 911.4,608.9 911.7,607.1 912.1,608.7 912.4,608.3 912.8,605.6 913.1,609.6 913.5,609.3 913.8,607.3 914.2,610.3 914.5,613.5 914.9,605.2 915.2,608.9 915.6,610.1 915.9,608.3 916.3,606.9 916.6,612.6 917.0,606.7 917.3,607.2 917.7,605.8 918.0,609.4 918.4,602.0 918.7,604.3 919.1,604.9 919.4,606.3 919.8,606.3 920.1,607.6 920.5,605.2 920.8,603.9 921.2,605.3 921.5,603.5 921.9,604.1 922.2,604.0 922.6,605.4 922.9,606.4 923.3,602.1 923.6,603.0 924.0,604.1 924.3,604.1 924.7,603.6 925.0,605.4 925.4,603.9 925.7,600.9 926.1,607.5 926.4,602.3 926.8,608.5 927.1,605.6 927.5,605.7 927.8,601.8 928.2,605.3 928.5,604.1 928.9,602.5 929.2,605.2 929.6,605.5 929.9,606.4 930.3,601.4 930.6,602.5 931.0,607.3 931.3,605.8 931.7,606.6 932.0,604.0 932.4,606.0 932.7,607.1 933.1,603.0 933.4,604.1 933.8,605.9 934.1,608.0 934.5,603.8 934.8,605.6 935.2,602.0 935.5,600.9 935.9,604.5 936.2,601.1 936.6,603.7 936.9,602.9 937.3,605.7 937.6,602.5 938.0,602.5 938.3,602.7 938.7,605.4 939.0,608.6 939.4,607.7 939.7,606.4 940.1,605.7 940.4,608.5 940.8,605.8 941.1,608.1 941.5,608.7 941.8,607.3 942.2,606.8 942.5,606.8 942.9,606.0 943.2,606.8 943.6,604.4 943.9,604.4 944.3,609.3 944.6,605.7 945.0,602.4 945.3,608.7 945.7,608.8 946.0,607.2 946.4,604.0 946.7,611.0 947.1,609.6 947.4,610.4 947.8,607.8 948.1,609.7 948.5,608.7 948.8,609.2 949.2,607.6 949.5,608.7 949.9,609.4 950.2,610.5 950.6,612.3 950.9,611.2 951.3,606.1 951.6,611.7 952.0,606.3 952.3,610.3 952.7,608.8 953.0,609.4 953.4,608.4 953.7,607.4 954.1,613.2 954.4,605.1 954.8,608.6 955.1,613.5 955.5,610.9 955.8,611.0 956.2,609.1 956.5,608.4 956.9,611.6 957.2,609.6 957.6,610.1 957.9,610.5 958.3,605.0 958.6,606.1 959.0,606.8 959.3,608.8 959.7,610.0 960.0,606.6 960.4,608.6 960.7,609.0 961.1,609.1 961.4,612.6 961.8,607.9 962.1,609.8 962.5,604.8 962.8,609.5 963.2,610.1 963.5,611.5 963.9,609.1 964.2,609.1 964.6,607.8 964.9,609.3 965.3,615.3 965.6,606.8 966.0,607.0 966.3,610.9 966.7,608.9 967.0,613.6 967.4,607.9 967.7,614.4 968.1,609.8 968.4,607.0 968.8,605.6 969.1,608.1 969.5,608.4 969.8,610.4 970.2,606.8 970.5,615.8 970.9,611.2 971.2,609.1 971.6,608.3 971.9,615.2 972.3,608.0 972.6,611.3 973.0,612.9 973.3,607.9 973.7,611.1 974.0,608.8 974.4,612.8 974.7,612.8 975.1,610.9 975.4,610.0 975.8,607.1 976.1,614.8 976.5,613.0 976.8,611.5 977.2,613.4 977.5,610.5 977.9,608.3 978.2,612.7 978.6,608.7 978.9,609.5 979.3,612.1 979.6,607.2 980.0,610.6 980.3,610.0" fill="none" stroke="#e60a14" stroke-width="1.6" stroke-linejoin="round"/>
<line x1="622.3" y1="521.9" x2="622.3" y2="540.3" stroke="#000" stroke-width="2.2"/>
<path d="M614.5,539.3 L630.1,539.3 L622.3,555.0 Z" fill="#000"/>
<line x1="993.5" y1="595" x2="993.5" y2="642.4" stroke="#000" stroke-width="2"/>
<line x1="934.9" y1="641.4" x2="994.5" y2="641.4" stroke="#000" stroke-width="2"/>
<text x="1009.8" y="607.9" font-size="25.3">10%</text>
<text x="1001.8" y="638.1" font-size="25">ΔF/F<tspan font-size="16.5" dy="6.2">0</tspan></text>
<text x="936.9" y="671.2" font-size="25.3">5 min</text>
<text x="1181.7" y="455.3" fill="#5b95d6">Opto-stimulation @ 5s</text>
<line x1="1177.7" y1="475.3" x2="1484" y2="475.3" stroke="#6aa3dc" stroke-width="3"/>
<line x1="1212.9" y1="552.8" x2="1212.9" y2="564.2" stroke="#5b9bd5" stroke-width="2"/>
<line x1="1324.8" y1="552.8" x2="1324.8" y2="564.2" stroke="#5b9bd5" stroke-width="2"/>
<line x1="1435.8" y1="552.8" x2="1435.8" y2="564.2" stroke="#5b9bd5" stroke-width="2"/>
<path d="M1127.4,606.4 1127.8,604.5 1128.1,606.9 1128.4,603.8 1128.8,603.3 1129.1,602.9 1129.5,606.1 1129.8,603.1 1130.2,601.0 1130.5,600.0 1130.9,599.5 1131.2,604.1 1131.6,597.2 1131.9,598.9 1132.3,601.8 1132.6,602.8 1133.0,600.0 1133.3,601.8 1133.7,601.8 1134.0,602.6 1134.4,600.9 1134.7,604.1 1135.1,601.2 1135.4,604.0 1135.8,599.0 1136.1,603.5 1136.5,599.8 1136.8,600.1 1137.2,605.0 1137.5,603.2 1137.9,606.6 1138.2,604.3 1138.6,610.4 1138.9,607.8 1139.3,606.1 1139.6,609.2 1140.0,611.1 1140.3,608.0 1140.7,610.3 1141.0,613.1 1141.4,610.5 1141.7,608.4 1142.1,607.1 1142.4,609.3 1142.8,605.0 1143.1,601.9 1143.5,606.6 1143.8,605.8 1144.2,611.4 1144.5,608.3 1144.9,606.1 1145.2,605.8 1145.6,609.1 1145.9,606.4 1146.3,606.8 1146.6,607.6 1147.0,607.7 1147.3,607.5 1147.7,607.3 1148.0,609.4 1148.4,609.9 1148.7,603.0 1149.1,611.2 1149.4,606.2 1149.8,608.3 1150.1,604.3 1150.5,606.6 1150.8,606.4 1151.2,606.3 1151.5,608.0 1151.9,607.7 1152.2,604.7 1152.6,606.9 1152.9,609.0 1153.3,609.4 1153.6,607.8 1154.0,608.2 1154.3,608.5 1154.7,606.5 1155.0,605.7 1155.4,610.9 1155.7,606.4 1156.1,606.9 1156.4,604.8 1156.8,608.7 1157.1,609.6 1157.5,605.7 1157.8,607.4 1158.2,605.1 1158.5,610.5 1158.9,609.1 1159.2,605.8 1159.6,610.2 1159.9,608.6 1160.3,608.8 1160.6,608.8 1161.0,606.7 1161.3,606.9 1161.7,609.0 1162.0,607.5 1162.4,605.5 1162.7,611.2 1163.1,606.6 1163.4,605.7 1163.8,605.4 1164.1,608.1 1164.5,608.5 1164.8,606.9 1165.2,608.0 1165.5,603.1 1165.9,605.2 1166.2,605.0 1166.6,606.0 1166.9,607.3 1167.3,602.7 1167.6,613.5 1168.0,606.1 1168.3,609.0 1168.7,610.2 1169.0,610.4 1169.4,609.0 1169.7,602.5 1170.1,605.8 1170.4,609.3 1170.8,605.9 1171.1,605.9 1171.5,603.7 1171.8,611.4 1172.2,610.5 1172.5,608.2 1172.9,610.3 1173.2,610.9 1173.6,609.4 1173.9,611.7 1174.3,613.4 1174.6,614.6 1175.0,616.5 1175.3,614.4 1175.7,613.5 1176.0,615.2 1176.4,612.9 1176.7,611.4 1177.1,615.8 1177.4,612.4 1177.8,613.1 1178.1,613.6 1178.5,609.6 1178.8,612.6 1179.2,612.0 1179.5,610.7 1179.9,611.6 1180.2,609.2 1180.6,606.3 1180.9,610.0 1181.3,608.6 1181.6,611.9 1182.0,610.4 1182.3,608.4 1182.7,609.2 1183.0,611.4 1183.4,610.6 1183.7,608.7 1184.1,608.6 1184.4,606.9 1184.8,606.8 1185.1,607.8 1185.5,606.0 1185.8,606.4 1186.2,603.1 1186.5,601.6 1186.9,601.2 1187.2,603.4 1187.6,606.7 1187.9,606.2 1188.3,601.7 1188.6,600.4 1189.0,605.0 1189.3,604.3 1189.7,600.5 1190.0,605.3 1190.4,603.8 1190.7,606.3 1191.1,604.5 1191.4,605.7 1191.8,604.6 1192.1,602.0 1192.5,603.5 1192.8,602.6 1193.2,605.7 1193.5,602.3 1193.9,601.4 1194.2,606.1 1194.6,607.4 1194.9,608.3 1195.3,607.8 1195.6,603.0 1196.0,605.1 1196.3,605.9 1196.7,607.4 1197.0,603.6 1197.4,608.3 1197.7,609.3 1198.1,607.3 1198.4,609.8 1198.8,612.3 1199.1,610.3 1199.5,612.5 1199.8,612.6 1200.2,611.6 1200.5,611.8 1200.9,610.5 1201.2,613.8 1201.6,610.7 1201.9,610.7 1202.3,614.1 1202.6,611.7 1203.0,614.5 1203.3,616.0 1203.7,614.2 1204.0,614.3 1204.4,616.0 1204.7,615.8 1205.1,611.4 1205.4,612.2 1205.8,617.8 1206.1,616.2 1206.5,611.5 1206.8,613.1 1207.2,615.9 1207.5,613.9 1207.9,616.9 1208.2,616.3 1208.6,617.3 1208.9,614.1 1209.3,617.9 1209.6,620.8 1210.0,615.5 1210.3,620.0 1210.7,619.6" fill="none" stroke="#e60a14" stroke-width="1.6" stroke-linejoin="round"/>
<path d="M1213.6,575.0 1213.9,579.3 1214.3,579.9 1214.6,578.9 1215.0,584.3 1215.3,585.5 1215.7,584.3 1216.0,584.2 1216.4,590.4 1216.7,589.2 1217.1,594.4 1217.4,592.8 1217.8,594.8 1218.1,593.3 1218.5,597.1 1218.8,595.5 1219.2,597.3 1219.5,594.6 1219.9,592.5 1220.2,592.1 1220.6,594.4 1220.9,596.5 1221.3,595.0 1221.6,601.6 1222.0,596.8 1222.3,598.2 1222.7,597.6 1223.0,595.1 1223.4,600.1 1223.7,599.6 1224.1,600.4 1224.4,597.3 1224.8,599.8 1225.1,600.2 1225.5,603.3 1225.8,598.7 1226.2,603.5 1226.5,605.2 1226.9,602.3 1227.2,602.0 1227.6,606.9 1227.9,605.3 1228.3,607.7 1228.6,607.4 1229.0,608.5 1229.3,606.4 1229.7,602.7 1230.0,608.5 1230.4,606.0 1230.7,608.5 1231.1,605.9 1231.4,610.0 1231.8,605.7 1232.1,607.4 1232.5,607.6 1232.8,604.8 1233.2,605.4 1233.5,604.6 1233.9,602.8 1234.2,607.8 1234.6,603.1 1234.9,602.0 1235.3,604.5 1235.6,606.2 1236.0,606.6 1236.3,606.3 1236.7,606.6 1237.0,603.6 1237.4,609.6 1237.7,612.1 1238.1,607.1 1238.4,604.8 1238.8,609.8 1239.1,607.7 1239.5,599.8 1239.8,606.3 1240.2,604.9 1240.5,605.5 1240.9,612.1 1241.2,610.0 1241.6,607.7 1241.9,608.0 1242.3,611.0 1242.6,605.2 1243.0,608.8 1243.3,605.7 1243.7,608.8 1244.0,607.7 1244.4,606.2 1244.7,610.6 1245.1,610.4 1245.4,614.0 1245.8,610.2 1246.1,612.0 1246.5,610.7 1246.8,614.4 1247.2,609.6 1247.5,610.3 1247.9,612.2 1248.2,609.7 1248.6,608.4 1248.9,607.5 1249.3,606.9 1249.6,606.7 1250.0,603.9 1250.3,599.5 1250.7,605.8 1251.0,600.7 1251.4,606.6 1251.7,603.5 1252.1,609.7 1252.4,605.9 1252.8,604.8 1253.1,606.3 1253.5,601.9 1253.8,605.5 1254.2,604.6 1254.5,605.6 1254.9,601.4 1255.2,601.0 1255.6,607.0 1255.9,605.5 1256.3,604.4 1256.6,605.1 1257.0,604.0 1257.3,604.5 1257.7,607.2 1258.0,605.5 1258.4,607.7 1258.7,604.9 1259.1,602.6 1259.4,604.8 1259.8,605.7 1260.1,603.5 1260.5,605.0 1260.8,605.0 1261.2,608.2 1261.5,608.5 1261.9,609.6 1262.2,606.3 1262.6,609.2 1262.9,611.7 1263.3,609.8 1263.6,609.7 1264.0,608.6 1264.3,612.3 1264.7,611.2 1265.0,613.2 1265.4,611.0 1265.7,615.7 1266.1,611.4 1266.4,609.0 1266.8,612.2 1267.1,613.1 1267.5,615.1 1267.8,612.0 1268.2,612.4 1268.5,613.2 1268.9,613.1 1269.2,609.7 1269.6,615.7 1269.9,616.9 1270.3,612.8 1270.6,612.3 1271.0,614.1 1271.3,612.7 1271.7,616.0 1272.0,612.9 1272.4,615.1 1272.7,610.9 1273.1,610.0 1273.4,609.1 1273.8,608.7 1274.1,612.0 1274.5,612.5 1274.8,610.7 1275.2,610.6 1275.5,605.5 1275.9,612.4 1276.2,607.6 1276.6,613.0 1276.9,615.5 1277.3,610.8 1277.6,612.1 1278.0,612.2 1278.3,608.2 1278.7,608.5 1279.0,609.2 1279.4,610.8 1279.7,612.1 1280.1,610.4 1280.4,612.4 1280.8,609.0 1281.1,607.2 1281.5,610.2 1281.8,610.1 1282.2,607.4 1282.5,612.7 1282.9,608.7 1283.2,609.3 1283.6,611.3 1283.9,608.5 1284.3,611.9 1284.6,611.3 1285.0,611.4 1285.3,610.6 1285.7,609.8 1286.0,609.4 1286.4,611.9 1286.7,614.2 1287.1,613.0 1287.4,612.1 1287.8,613.3 1288.1,613.7 1288.5,608.3 1288.8,610.6 1289.2,613.1 1289.5,609.2 1289.9,609.4 1290.2,611.5 1290.6,609.7 1290.9,612.6 1291.3,609.6 1291.6,611.6 1292.0,615.8 1292.3,613.4 1292.7,608.8 1293.0,610.1 1293.4,610.7 1293.7,613.1 1294.1,610.7 1294.4,614.8 1294.8,617.1 1295.1,616.7 1295.5,611.7 1295.8,612.5 1296.2,612.3 1296.5,611.2 1296.9,616.4 1297.2,611.5 1297.6,610.6 1297.9,613.5 1298.3,613.3 1298.6,615.6 1299.0,615.5 1299.3,611.8 1299.7,607.9 1300.0,613.6 1300.4,614.0 1300.7,616.2 1301.1,609.4 1301.4,610.4 1301.8,616.0 1302.1,616.1 1302.5,615.3 1302.8,612.4 1303.2,615.0 1303.5,611.1 1303.9,609.6 1304.2,612.1 1304.6,612.5 1304.9,614.1 1305.3,614.9 1305.6,609.2 1306.0,613.5 1306.3,614.0 1306.7,610.4 1307.0,612.5 1307.4,613.3 1307.7,614.2 1308.1,611.6 1308.4,612.2 1308.8,610.8 1309.1,613.3 1309.5,611.4 1309.8,610.3 1310.2,612.2 1310.5,610.0 1310.9,607.5 1311.2,612.1 1311.6,611.7 1311.9,610.8 1312.3,607.9 1312.6,612.7 1313.0,609.6 1313.3,607.3 1313.7,611.2 1314.0,615.3 1314.4,610.7 1314.7,612.5 1315.1,613.7 1315.4,611.1 1315.8,609.9 1316.1,610.5 1316.5,611.8 1316.8,609.9 1317.2,612.0 1317.5,612.9 1317.9,611.4 1318.2,613.9 1318.6,613.7 1318.9,612.0 1319.3,625.0 1319.6,612.8 1320.0,612.3 1320.3,612.2 1320.7,610.7 1321.0,613.0 1321.4,614.4 1321.7,614.2 1322.1,611.2 1322.4,614.0 1322.8,614.0 1323.1,611.0" fill="none" stroke="#e60a14" stroke-width="1.6" stroke-linejoin="round"/>
<path d="M1325.8,583.0 1326.1,581.9 1326.5,583.5 1326.8,583.4 1327.2,586.2 1327.5,590.5 1327.9,589.4 1328.2,591.3 1328.6,592.1 1328.9,597.0 1329.3,593.7 1329.6,596.9 1330.0,600.5 1330.3,601.8 1330.7,598.6 1331.0,601.4 1331.4,595.6 1331.7,601.8 1332.1,601.3 1332.4,598.6 1332.8,597.9 1333.1,600.9 1333.5,602.9 1333.8,603.5 1334.2,603.3 1334.5,605.1 1334.9,605.4 1335.2,601.4 1335.6,603.7 1335.9,603.7 1336.3,607.1 1336.6,604.0 1337.0,607.3 1337.3,605.7 1337.7,610.9 1338.0,606.3 1338.4,607.0 1338.7,607.2 1339.1,608.2 1339.4,613.4 1339.8,607.4 1340.1,606.6 1340.5,608.0 1340.8,609.8 1341.2,606.2 1341.5,609.7 1341.9,609.5 1342.2,607.4 1342.6,607.2 1342.9,606.1 1343.3,607.2 1343.6,606.3 1344.0,610.8 1344.3,611.8 1344.7,608.0 1345.0,608.8 1345.4,605.2 1345.7,608.3 1346.1,610.3 1346.4,610.3 1346.8,610.1 1347.1,611.6 1347.5,610.0 1347.8,608.9 1348.2,613.0 1348.5,605.5 1348.9,607.1 1349.2,607.9 1349.6,607.8 1349.9,607.7 1350.3,608.9 1350.6,608.1 1351.0,609.8 1351.3,611.6 1351.7,610.9 1352.0,611.6 1352.4,609.9 1352.7,609.8 1353.1,611.9 1353.4,614.7 1353.8,613.8 1354.1,615.6 1354.5,615.7 1354.8,616.4 1355.2,612.7 1355.5,617.2 1355.9,616.4 1356.2,619.3 1356.6,616.2 1356.9,615.6 1357.3,614.6 1357.6,615.3 1358.0,611.6 1358.3,614.7 1358.7,615.5 1359.0,618.0 1359.4,615.0 1359.7,617.0 1360.1,621.0 1360.4,616.4 1360.8,619.6 1361.1,616.9 1361.5,617.8 1361.8,618.9 1362.2,619.8 1362.5,616.8 1362.9,615.6 1363.2,620.7 1363.6,617.8 1363.9,618.9 1364.3,619.0 1364.6,618.5 1365.0,616.2 1365.3,616.3 1365.7,613.2 1366.0,616.7 1366.4,615.2 1366.7,616.0 1367.1,620.0 1367.4,617.5 1367.8,616.2 1368.1,613.2 1368.5,617.5 1368.8,618.9 1369.2,613.7 1369.5,616.0 1369.9,613.6 1370.2,614.0 1370.6,613.3 1370.9,610.4 1371.3,612.6 1371.6,610.2 1372.0,616.4 1372.3,615.7 1372.7,613.7 1373.0,614.2 1373.4,613.7 1373.7,613.9 1374.1,613.7 1374.4,612.6 1374.8,612.5 1375.1,610.1 1375.5,610.8 1375.8,611.8 1376.2,613.6 1376.5,612.6 1376.9,617.5 1377.2,613.4 1377.6,613.2 1377.9,615.0 1378.3,616.3 1378.6,618.1 1379.0,616.4 1379.3,613.2 1379.7,613.9 1380.0,616.2 1380.4,614.2 1380.7,614.9 1381.1,612.7 1381.4,615.9 1381.8,615.5 1382.1,615.0 1382.5,613.4 1382.8,610.2 1383.2,611.4 1383.5,615.5 1383.9,616.7 1384.2,609.8 1384.6,615.2 1384.9,618.8 1385.3,618.5 1385.6,615.6 1386.0,618.1 1386.3,617.0 1386.7,616.7 1387.0,619.6 1387.4,619.8 1387.7,616.5 1388.1,615.6 1388.4,614.9 1388.8,614.7 1389.1,620.5 1389.5,621.8 1389.8,618.7 1390.2,620.8 1390.5,617.6 1390.9,619.2 1391.2,621.4 1391.6,620.4 1391.9,619.7 1392.3,616.4 1392.6,617.0 1393.0,619.2 1393.3,619.1 1393.7,620.3 1394.0,619.4 1394.4,620.6 1394.7,621.4 1395.1,622.6 1395.4,621.8 1395.8,620.5 1396.1,621.0 1396.5,623.3 1396.8,620.9 1397.2,619.3 1397.5,619.2 1397.9,621.9 1398.2,622.7 1398.6,624.3 1398.9,621.4 1399.3,625.1 1399.6,621.8 1400.0,622.2 1400.3,621.6 1400.7,623.9 1401.0,625.0 1401.4,622.7 1401.7,621.7 1402.1,619.5 1402.4,622.8 1402.8,621.7 1403.1,622.1 1403.5,621.4 1403.8,621.2 1404.2,622.5 1404.5,624.7 1404.9,626.1 1405.2,624.4 1405.6,625.2 1405.9,624.3 1406.3,624.6 1406.6,622.1 1407.0,626.8 1407.3,626.1 1407.7,627.8 1408.0,623.4 1408.4,624.7 1408.7,622.3 1409.1,624.4 1409.4,623.6 1409.8,625.2 1410.1,623.6 1410.5,625.4 1410.8,623.2 1411.2,625.5 1411.5,623.6 1411.9,623.3 1412.2,624.3 1412.6,624.9 1412.9,621.5 1413.3,621.7 1413.6,625.8 1414.0,625.9 1414.3,622.5 1414.7,623.6 1415.0,625.8 1415.4,628.1 1415.7,627.7 1416.1,629.0 1416.4,629.0 1416.8,631.1 1417.1,623.0 1417.5,625.7 1417.8,627.8 1418.2,623.2 1418.5,623.1 1418.9,626.6 1419.2,628.8 1419.6,629.4 1419.9,623.5 1420.3,624.7 1420.6,627.0 1421.0,626.0 1421.3,627.5 1421.7,626.9 1422.0,630.1 1422.4,626.4 1422.7,627.0 1423.1,626.9 1423.4,629.2 1423.8,624.9 1424.1,628.2 1424.5,626.1 1424.8,625.0 1425.2,630.5 1425.5,629.3 1425.9,631.1 1426.2,628.7 1426.6,629.4 1426.9,628.1 1427.3,628.8 1427.6,626.6 1428.0,630.7 1428.3,625.1 1428.7,630.2 1429.0,626.1 1429.4,628.1 1429.7,626.4 1430.1,626.9 1430.4,629.0 1430.8,626.4 1431.1,624.3 1431.5,626.9 1431.8,628.0 1432.2,621.8 1432.5,628.9 1432.9,629.0 1433.2,623.0 1433.6,626.2 1433.9,628.1 1434.3,624.0 1434.6,625.7 1435.0,626.1 1435.3,628.1 1435.7,629.5 1436.0,627.3 1436.4,627.5" fill="none" stroke="#e60a14" stroke-width="1.6" stroke-linejoin="round"/>
<path d="M1438.4,585.5 1438.8,592.2 1439.1,590.5 1439.4,592.6 1439.8,595.1 1440.1,592.9 1440.5,594.3 1440.8,596.4 1441.2,599.2 1441.5,595.7 1441.9,602.0 1442.2,600.8 1442.6,598.7 1442.9,602.1 1443.3,604.2 1443.6,606.1 1444.0,605.9 1444.3,607.0 1444.7,605.0 1445.0,607.3 1445.4,601.1 1445.7,608.9 1446.1,607.3 1446.4,611.0 1446.8,607.1 1447.1,607.6 1447.5,608.9 1447.8,610.7 1448.2,609.9 1448.5,611.4 1448.9,609.7 1449.2,611.9 1449.6,615.8 1449.9,613.1 1450.3,612.4 1450.6,608.8 1451.0,613.6 1451.3,615.1 1451.7,613.0 1452.0,615.8 1452.4,609.6 1452.7,612.8 1453.1,612.4 1453.4,615.4 1453.8,612.9 1454.1,612.8 1454.5,618.0 1454.8,612.6 1455.2,617.0 1455.5,618.6 1455.9,616.2 1456.2,615.3 1456.6,617.0 1456.9,616.5 1457.3,616.3 1457.6,618.7 1458.0,618.5 1458.3,625.2 1458.7,621.9 1459.0,620.1 1459.4,621.2 1459.7,623.7 1460.1,623.0 1460.4,621.2 1460.8,619.9 1461.1,625.3 1461.5,622.0 1461.8,622.7 1462.2,625.1 1462.5,622.8 1462.9,625.2 1463.2,622.1 1463.6,623.1 1463.9,622.4 1464.3,626.9 1464.6,619.7 1465.0,622.1 1465.3,620.5 1465.7,620.5 1466.0,619.2 1466.4,619.9 1466.7,623.9 1467.1,624.3 1467.4,620.1 1467.8,619.0 1468.1,620.7 1468.5,625.1 1468.8,622.0 1469.2,618.1 1469.5,624.3 1469.9,622.4 1470.2,623.9 1470.6,623.5 1470.9,620.0 1471.3,624.6 1471.6,623.9 1472.0,621.3 1472.3,618.1 1472.7,620.3 1473.0,620.4 1473.4,624.0 1473.7,621.3 1474.1,621.5 1474.4,622.5 1474.8,621.6 1475.1,623.4 1475.5,623.5 1475.8,625.0 1476.2,620.8 1476.5,624.1 1476.9,622.9 1477.2,627.6 1477.6,626.1 1477.9,622.2 1478.3,624.6 1478.6,619.0 1479.0,620.2 1479.3,621.7 1479.7,622.9 1480.0,620.3 1480.4,622.7 1480.7,625.3 1481.1,619.7 1481.4,620.2 1481.8,619.1 1482.1,625.2 1482.5,620.7 1482.8,621.9 1483.2,620.8 1483.5,622.3 1483.9,621.8 1484.2,622.8 1484.6,622.9 1484.9,625.8 1485.3,620.9 1485.6,623.4 1486.0,623.2 1486.3,621.8 1486.7,625.5 1487.0,627.7 1487.4,622.0 1487.7,629.2 1488.1,624.0 1488.4,624.1 1488.8,618.9 1489.1,624.1 1489.5,623.5 1489.8,623.1 1490.2,624.9 1490.5,623.1 1490.9,624.0 1491.2,621.9 1491.6,620.7 1491.9,623.0 1492.3,623.7 1492.6,623.5 1493.0,622.0 1493.3,620.1 1493.7,621.5 1494.0,620.8 1494.4,618.9 1494.7,622.2 1495.1,621.4 1495.4,619.7 1495.8,621.5 1496.1,623.4 1496.5,625.4 1496.8,618.9 1497.2,621.9 1497.5,623.9 1497.9,625.2 1498.2,623.9 1498.6,621.2 1498.9,622.3 1499.3,623.2 1499.6,621.6 1500.0,620.7 1500.3,620.2 1500.7,627.8 1501.0,622.7 1501.4,622.1 1501.7,624.0 1502.1,622.8 1502.4,622.4 1502.8,623.1 1503.1,621.0 1503.5,621.5 1503.8,624.0 1504.2,623.3 1504.5,619.9 1504.9,625.1 1505.2,621.5 1505.6,619.4 1505.9,624.4 1506.3,624.6 1506.6,624.3 1507.0,622.0 1507.3,626.7 1507.7,625.6 1508.0,625.5 1508.4,625.5 1508.7,626.0 1509.1,629.8 1509.4,624.4 1509.8,626.0 1510.1,627.4 1510.5,626.5 1510.8,623.3 1511.2,624.7 1511.5,624.2 1511.9,622.3 1512.2,625.0 1512.6,627.5 1512.9,626.3 1513.3,628.1 1513.6,626.9 1514.0,624.6 1514.3,627.1 1514.7,622.6 1515.0,628.5 1515.4,625.2 1515.7,629.2 1516.1,623.1 1516.4,623.8 1516.8,624.8 1517.1,625.0 1517.5,622.1 1517.8,622.4 1518.2,625.6 1518.5,622.7 1518.9,625.8 1519.2,627.2 1519.6,620.8 1519.9,622.9 1520.3,627.0 1520.6,625.5 1521.0,620.4 1521.3,623.6 1521.7,626.0 1522.0,618.1 1522.4,622.9 1522.7,624.0 1523.1,620.6 1523.4,620.0 1523.8,622.5 1524.1,617.6 1524.5,621.8 1524.8,623.2 1525.2,621.1 1525.5,618.1 1525.9,624.8 1526.2,622.0 1526.6,623.8 1526.9,621.4 1527.3,623.6 1527.6,626.4 1528.0,621.5 1528.3,622.1 1528.7,620.6 1529.0,625.6 1529.4,625.5 1529.7,622.7 1530.1,624.9 1530.4,624.0 1530.8,627.7 1531.1,621.1 1531.5,623.8 1531.8,622.2 1532.2,626.6 1532.5,623.8 1532.9,620.5 1533.2,623.9 1533.6,622.8 1533.9,621.4 1534.3,624.2 1534.6,623.8 1535.0,621.2 1535.3,622.7 1535.7,626.0 1536.0,625.7 1536.4,623.4 1536.7,622.9 1537.1,624.1 1537.4,623.1 1537.8,620.9 1538.1,624.6 1538.5,621.9 1538.8,626.7 1539.2,625.3" fill="none" stroke="#e60a14" stroke-width="1.6" stroke-linejoin="round"/>
<line x1="1556.9" y1="593.3" x2="1556.9" y2="641.9" stroke="#000" stroke-width="2"/>
<line x1="1510.8" y1="640.9" x2="1557.9" y2="640.9" stroke="#000" stroke-width="2"/>
<text x="1575.9" y="607.9" font-size="25.3">10%</text>
<text x="1567.8" y="637.6" font-size="25">ΔF/F<tspan font-size="16.5" dy="6.2">0</tspan></text>
<text x="1502.8" y="671.0" font-size="25.3">2 min</text>
<text x="1.8" y="822.5" font-size="32" font-weight="bold">c</text>
<g transform="translate(0,772)"><g fill="#fdf1ed" stroke="#eee0dc" stroke-width="1.3" stroke-linejoin="round" stroke-linecap="round">
<path d="M49.9,168.2 C50,162 53,158 56,157 C62,155 72,154.8 80,155.4 C88,156 94,158.5 98,161.3 L105.8,159.3 C120,152 140,143 162.8,137.8 C178,134 190,132 200,131.9 C215,131.5 235,131.5 244.2,133.8 C252,135.5 257,136.5 258.9,137.8 C263,140 265.5,144 265.7,148.6 C268,147.5 271,146.8 273.6,146.6 C280,146.2 286,147 288.3,147.6 C295,148.5 299,149.3 303,150.5 C310,153 314,155.5 317.8,157.4 C323,160.5 327,163 330.5,166.2 C334,169 335.5,171 335.4,174.1 C336.5,182 336.8,190 336.4,193.7 C336.2,202 336,212 335.4,219.2 C338,221 340,222 342.3,223.1 C346,226 348,228 350.1,231 C353,235 354,239 354.1,242.8 C354.5,248 354,253 353.1,257.5 C352,262 350,265 347.2,267.3 C344,270 341,271 337.4,271.2 C332,271.5 327,271 322.7,270.2 C318,269 315,267 312.9,265.3 C308,263 303,261.5 298.1,260.4 C290,258.5 284,256.5 278.5,255.5 C272,254.5 268,253.8 263.8,253.6 C260,253.7 257,254.2 255,254.5 C251,254 248.5,252 247,249.5 C241,252 232,256 224.5,257.8 C215,259.5 207,260.5 200,260.6 C192,260.6 187,260.2 182.4,259.4 C175,258 168,255.5 162.8,252.6 C155,248.5 149,245.5 143.1,242.8 C136,239 129,236 123.5,233 C117,230 112,226.5 107.8,223.1 C103,219 99,215 96,210.4 C93,206.5 90.5,202.5 88.2,199.5 C84,201 80,201.2 74.4,200.6 C70,199.5 67,197.8 64.6,195.7 C61,192 58.5,188 56.8,183.9 C54,180 52,177 50.9,174.1 C50.2,172 49.9,170 49.9,168.2 Z"/>
<g fill="none">
<path d="M105.8,159.3 C97,163 89,170 86.2,180 C84.8,187 85.5,194 88.2,199.5"/>
<path d="M54.8,164.3 C62,164 70,165.5 74.4,168.2 C80,171 84,174 87,177"/>
<path d="M115.7,156.4 C125,153 135,150.5 143.1,148.6 C165,145.5 185,145 200,146.1 C215,146 225,146 229.4,146.1 C236,146.5 241,147.5 244.2,149.5 C248,151 251,153 254,155.4 C257,158 258.5,161 258.9,164.3 C261,172 261,178 260.8,183.9 C260.5,193 259.8,201 258.9,208.4 C257.8,214 256.5,219 255,223.1 C253,229 250,237 247.1,248.5"/>
<path d="M260.8,157.4 C263,155 266,153.5 268.7,152.5"/>
<path d="M262.8,198.6 C266,194 270,190.5 273.6,187.8 C279,184 284,182 288.3,181 C294,179.5 299,178.5 303,178 L308,179"/>
<path d="M280.5,213.3 C282,206 285,200 288.3,195.7 C291,192 294.5,189.5 298.1,187.8 C301,186 303.5,184.8 306,183.9 C307.5,189 308.5,194 308,198.6 C307,206 305.5,213 304,218.2 C302,220.5 300,222 298.1,223.1"/>
<path d="M263.8,223.1 C270,221 275,219.8 278.5,219.2 C285,219 292,219 298.1,219.2 L298.1,233 C300,234.5 301.5,235.5 303,235.9 C308,233.5 313,231 317.8,229 C321,226 324,222 326.6,219.2"/>
<path d="M308,172.1 C313,175 318,179 322.7,183.9 C325,190 326.5,197 326.6,203.5 C326.5,209 326,214 325.6,218.2"/>
<path d="M272.6,166.2 C276,163 280,160.5 283.4,159.3 L288.3,158.4"/>
<path d="M288.3,166.2 C291,164.5 295,163 298.1,162.3 C300,162.5 302,163.3 303,164.3"/>
<path d="M272.6,172.1 C278,171 283,170.3 288.3,170.1 C295,170 302,170.5 308,171.1"/>
<path d="M330.5,170 C332,180 332,200 330,218"/>
</g></g></g>
<text x="52.1" y="831.6" font-style="italic">In vivo</text>
<text x="32.8" y="866.6">recording</text>
<text x="185.5" y="831.6">Opto-stimulation</text>
<text x="185.6" y="866.8">(635 nm, 20 Hz)</text>
<rect x="108.8" y="896.7" width="7.700000000000003" height="27.59999999999991" fill="#fff" stroke="#7a7a7a" stroke-width="1.3"/>
<line x1="112.65" y1="924.3" x2="112.65" y2="958" stroke="#7a7a7a" stroke-width="1.4"/>
<rect x="231.4" y="877.6" width="7.900000000000006" height="24.0" fill="#fff" stroke="#7a7a7a" stroke-width="1.3"/>
<line x1="235.35000000000002" y1="901.6" x2="235.35000000000002" y2="1008" stroke="#7a7a7a" stroke-width="1.4"/>
<path d="M235.8,1016 C188,1014 150,1004 132,992 C124,985 119,979 118,974" fill="none" stroke="#ff00ff" stroke-width="3.8"/>
<path d="M112,952.6 L105.7,978.6 L129.3,971.6 Z" fill="#ff00ff"/>
<circle cx="235.8" cy="1014.5" r="12.2" fill="#ff00ff"/>
<line x1="235.4" y1="901.6" x2="235.4" y2="1007" stroke="#7a7a7a" stroke-width="1.4"/>
<text x="12.8" y="979.6">mPFC</text>
<text x="10.9" y="1025.5" fill="#1a9468">gDA3h</text>
<text x="272.7" y="1015.9" letter-spacing="1">VTA</text>
<text x="236.3" y="1059.0">ChrimsonR</text>
<text x="242.7" y="1093.3">-<tspan fill="#e31ee3">tdTomato</tspan></text>
<text x="735.6" y="854.9">NET blocker</text>
<line x1="630.9" y1="873" x2="979.2" y2="873" stroke="#000" stroke-width="3"/>
<text x="641.0" y="905.4">Grab &amp; i.p.</text>
<text x="487.9" y="982.5" fill="#1a9468">gDA3h</text>
<rect x="670.9" y="990.9" width="313.0" height="44.5" fill="#e5e5e5"/>
<text x="763.9" y="948.0" font-size="25.3" fill="#595959">No detection of</text>
<text x="776.6" y="978.3" font-size="25.3" fill="#595959">NE elevation</text>
<path d="M570.0,1014.7 570.4,1011.5 570.7,1008.6 571.1,1014.0 571.4,1013.4 571.8,1014.9 572.1,1016.8 572.5,1014.7 572.8,1015.9 573.2,1019.8 573.5,1021.2 573.9,1019.5 574.2,1023.3 574.6,1021.2 574.9,1018.6 575.3,1021.0 575.6,1025.6 576.0,1017.2 576.3,1022.1 576.7,1022.5 577.0,1022.8 577.4,1015.9 577.7,1024.7 578.1,1019.4 578.4,1018.8 578.8,1019.3 579.1,1022.2 579.5,1020.8 579.8,1020.3 580.2,1024.7 580.5,1018.6 580.9,1017.6 581.2,1022.9 581.6,1022.3 581.9,1023.1 582.3,1016.2 582.6,1022.0 583.0,1019.5 583.3,1022.6 583.7,1012.7 584.0,1016.3 584.4,1014.2 584.7,1009.8 585.1,1012.3 585.4,1017.9 585.8,1013.3 586.1,1012.8 586.5,1017.9 586.8,1018.4 587.2,1018.5 587.5,1013.1 587.9,1015.1 588.2,1018.2 588.6,1012.8 588.9,1012.4 589.3,1017.0 589.6,1019.2 590.0,1010.9 590.3,1006.7 590.7,1010.3 591.0,1011.7 591.4,1014.4 591.7,1016.7 592.1,1014.4 592.4,1012.7 592.8,1015.3 593.1,1011.9 593.5,1014.7 593.8,1012.9 594.2,1022.9 594.5,1017.1 594.9,1012.0 595.2,1011.2 595.6,1012.7 595.9,1008.8 596.3,1011.4 596.6,1011.4 597.0,1016.4 597.3,1012.9 597.7,1012.3 598.0,1011.3 598.4,1012.5 598.7,1016.6 599.1,1016.7 599.4,1021.4 599.8,1016.5 600.1,1021.8 600.5,1019.4 600.8,1018.6 601.2,1012.5 601.5,1014.5 601.9,1020.4 602.2,1022.2 602.6,1018.4 602.9,1019.8 603.3,1015.9 603.6,1015.7 604.0,1014.5 604.3,1019.1 604.7,1016.8 605.0,1014.7 605.4,1014.0 605.7,1016.3 606.1,1015.4 606.4,1011.9 606.8,1019.8 607.1,1015.8 607.5,1015.5 607.8,1020.6 608.2,1019.7 608.5,1016.7 608.9,1018.7 609.2,1013.6 609.6,1014.5 609.9,1009.0 610.3,1018.8 610.6,1008.5 611.0,1015.6 611.3,1010.2 611.7,1009.1 612.0,1010.9 612.4,1012.0 612.7,1012.8 613.1,1016.3 613.4,1012.0 613.8,1013.8 614.1,1009.5 614.5,1013.8 614.8,1012.3 615.2,1010.8 615.5,1012.1 615.9,1012.5 616.2,1013.5 616.6,1014.2 616.9,1011.5 617.3,1010.7 617.6,1015.0 618.0,1007.2 618.3,1010.0 618.7,1016.1 619.0,1002.6 619.4,1008.4 619.7,1012.4 620.1,1005.3 620.4,1018.5 620.8,1003.2 621.1,1016.0 621.5,1017.0 621.8,1015.7 622.2,1012.9 622.5,1015.1 622.9,1011.7 623.2,1017.1 623.6,1011.3 623.9,1013.9 624.3,1017.8 624.6,1011.3 625.0,1013.7 625.3,1015.3 625.7,1010.8 626.0,1018.5 626.4,1015.1 626.7,1008.5 627.1,1012.1 627.4,1009.1 627.8,1008.7 628.1,1010.3 628.5,1007.3 628.8,1011.1 629.2,1004.6 629.5,1008.5 629.9,1004.1 630.2,1005.6 630.6,998.4 630.9,986.5 631.3,972.3 631.6,963.9 632.0,930.5 632.3,943.0 632.7,953.0 633.0,962.3 633.4,972.0 633.7,985.1 634.1,993.8 634.4,1000.1 634.8,1000.2 635.1,993.6 635.5,985.4 635.8,982.9 636.2,970.8 636.5,960.1 636.9,955.4 637.2,950.2 637.6,956.6 637.9,962.2 638.3,963.6 638.6,978.2 639.0,977.7 639.3,985.5 639.7,989.0 640.0,995.1 640.4,994.0 640.7,995.4 641.1,991.2 641.4,997.1 641.8,994.0 642.1,1000.5 642.5,1001.3 642.8,1000.8 643.2,1008.0 643.5,1004.1 643.9,1005.2 644.2,1004.6 644.6,1004.4 644.9,1008.8 645.3,1010.2 645.6,1003.8 646.0,1012.2 646.3,1011.2 646.7,1013.1 647.0,1012.1 647.4,1007.3 647.7,1007.9 648.1,1017.4 648.4,1013.0 648.8,1008.3 649.1,1014.3 649.5,1012.8 649.8,1009.1 650.2,1008.6 650.5,1011.7 650.9,1018.3 651.2,1018.2 651.6,1018.2 651.9,1020.4 652.3,1021.7 652.6,1013.5 653.0,1019.0 653.3,1017.2 653.7,1015.7 654.0,1017.5 654.4,1018.5 654.7,1017.8 655.1,1013.9 655.4,1016.8 655.8,1024.4 656.1,1014.8 656.5,1012.8 656.8,1018.8 657.2,1019.7 657.5,1019.2 657.9,1014.4 658.2,1021.0 658.6,1015.7 658.9,1014.9 659.3,1016.9 659.6,1018.8 660.0,1021.7 660.3,1021.8 660.7,1020.2 661.0,1023.4 661.4,1021.0 661.7,1023.7 662.1,1016.8 662.4,1016.5 662.8,1023.9 663.1,1017.5 663.5,1021.1 663.8,1022.1 664.2,1021.2 664.5,1021.7 664.9,1027.7 665.2,1015.8 665.6,1026.4 665.9,1030.7 666.3,1023.5 666.6,1023.1 667.0,1025.3 667.3,1028.7 667.7,1019.7 668.0,1024.1 668.4,1023.8 668.7,1026.7 669.1,1026.0 669.4,1028.0 669.8,1024.9 670.1,1026.5 670.5,1024.2 670.8,1024.1 671.2,1025.6 671.5,1025.4 671.9,1022.0 672.2,1030.2 672.6,1024.8 672.9,1020.9 673.3,1028.6 673.6,1023.0 674.0,1027.2 674.3,1025.9 674.7,1027.2 675.0,1027.3 675.4,1025.3 675.7,1027.5 676.1,1033.8 676.4,1020.6 676.8,1027.6 677.1,1028.5 677.5,1023.5 677.8,1022.1 678.2,1032.5 678.5,1024.3 678.9,1031.5 679.2,1026.4 679.6,1024.7 679.9,1025.8 680.3,1026.2 680.6,1027.9 681.0,1025.7 681.3,1025.0 681.7,1025.4 682.0,1029.4 682.4,1028.3 682.7,1023.2 683.1,1024.9 683.4,1028.5 683.8,1026.2 684.1,1027.6 684.5,1026.4 684.8,1029.2 685.2,1031.8 685.5,1034.0 685.9,1031.3 686.2,1038.0 686.6,1031.6 686.9,1042.0 687.3,1035.4 687.6,1034.2 688.0,1031.5 688.3,1024.6 688.7,1033.2 689.0,1034.4 689.4,1039.9 689.7,1029.6 690.1,1039.7 690.4,1032.8 690.8,1035.7 691.1,1025.3 691.5,1033.1 691.8,1031.0 692.2,1033.7 692.5,1031.2 692.9,1026.8 693.2,1032.8 693.6,1031.6 693.9,1031.0 694.3,1032.1 694.6,1032.2 695.0,1028.7 695.3,1024.4 695.7,1024.2 696.0,1032.5 696.4,1030.4 696.7,1028.4 697.1,1026.8 697.4,1028.5 697.8,1028.8 698.1,1028.2 698.5,1027.6 698.8,1037.0 699.2,1031.4 699.5,1029.0 699.9,1027.0 700.2,1028.8 700.6,1033.4 700.9,1033.6 701.3,1030.6 701.6,1031.4 702.0,1030.3 702.3,1027.7 702.7,1035.0 703.0,1031.9 703.4,1038.2 703.7,1027.9 704.1,1029.6 704.4,1032.6 704.8,1028.9 705.1,1025.1 705.5,1026.2 705.8,1029.2 706.2,1029.5 706.5,1027.8 706.9,1030.8 707.2,1030.4 707.6,1028.1 707.9,1027.1 708.3,1026.3 708.6,1028.9 709.0,1030.2 709.3,1027.5 709.7,1028.7 710.0,1026.0 710.4,1022.3 710.7,1023.0 711.1,1027.9 711.4,1026.2 711.8,1029.0 712.1,1023.5 712.5,1025.4 712.8,1026.4 713.2,1025.1 713.5,1020.1 713.9,1021.5 714.2,1022.8 714.6,1019.6 714.9,1024.5 715.3,1026.4 715.6,1021.7 716.0,1029.2 716.3,1021.8 716.7,1021.6 717.0,1021.1 717.4,1019.1 717.7,1022.2 718.1,1020.5 718.4,1025.2 718.8,1021.3 719.1,1020.6 719.5,1017.7 719.8,1013.5 720.2,1017.3 720.5,1014.7 720.9,1020.4 721.2,1017.5 721.6,1023.2 721.9,1020.7 722.3,1021.4 722.6,1019.8 723.0,1019.9 723.3,1021.2 723.7,1021.9 724.0,1016.5 724.4,1020.0 724.7,1026.3 725.1,1017.5 725.4,1016.6 725.8,1014.9 726.1,1012.1 726.5,1020.0 726.8,1016.0 727.2,1016.3 727.5,1020.7 727.9,1022.4 728.2,1011.2 728.6,1016.8 728.9,1014.8 729.3,1013.4 729.6,1013.1 730.0,1011.0 730.3,1015.6 730.7,1012.3 731.0,1011.3 731.4,1014.0 731.7,1012.9 732.1,1011.4 732.4,1010.9 732.8,1015.3 733.1,1011.2 733.5,1009.1 733.8,1006.5 734.2,1007.9 734.5,1005.6 734.9,1009.1 735.2,1009.5 735.6,1002.2 735.9,1008.7 736.3,1010.6 736.6,1009.0 737.0,1005.4 737.3,1013.0 737.7,1007.5 738.0,1006.5 738.4,1007.7 738.7,1011.6 739.1,1015.3 739.4,1016.2 739.8,1013.4 740.1,1009.0 740.5,1010.6 740.8,1009.6 741.2,1011.7 741.5,1006.6 741.9,1012.6 742.2,1014.5 742.6,1012.5 742.9,1015.1 743.3,1011.5 743.6,1010.9 744.0,1014.5 744.3,1021.1 744.7,1021.1 745.0,1016.5 745.4,1021.7 745.7,1016.8 746.1,1022.5 746.4,1019.2 746.8,1016.2 747.1,1020.1 747.5,1015.0 747.8,1014.4 748.2,1012.6 748.5,1017.7 748.9,1016.3 749.2,1015.7 749.6,1014.1 749.9,1019.4 750.3,1012.9 750.6,1011.4 751.0,1016.9 751.3,1016.7 751.7,1012.6 752.0,1005.3 752.4,1008.3 752.7,1011.7 753.1,1009.5 753.4,1014.1 753.8,1004.7 754.1,1011.0 754.5,1006.6 754.8,1012.5 755.2,1007.7 755.5,1010.9 755.9,1005.7 756.2,1003.4 756.6,1004.6 756.9,1006.5 757.3,1005.6 757.6,1013.1 758.0,1013.9 758.3,1010.9 758.7,1007.1 759.0,1010.2 759.4,1008.5 759.7,1015.5 760.1,1012.1 760.4,1013.1 760.8,1010.7 761.1,1005.9 761.5,1010.1 761.8,1009.1 762.2,1013.8 762.5,1012.9 762.9,1009.9 763.2,1011.1 763.6,1017.2 763.9,1009.1 764.3,1009.1 764.6,1011.2 765.0,1009.7 765.3,1010.6 765.7,1014.0 766.0,1018.2 766.4,1007.6 766.7,1013.8 767.1,1014.5 767.4,1014.5 767.8,1014.4 768.1,1014.0 768.5,1018.4 768.8,1013.9 769.2,1015.4 769.5,1016.4 769.9,1017.5 770.2,1017.4 770.6,1022.0 770.9,1019.6 771.3,1020.7 771.6,1020.4 772.0,1017.4 772.3,1017.5 772.7,1016.2 773.0,1019.4 773.4,1015.8 773.7,1014.1 774.1,1017.7 774.4,1018.2 774.8,1010.6 775.1,1021.2 775.5,1015.6 775.8,1014.6 776.2,1017.8 776.5,1014.2 776.9,1011.6 777.2,1020.2 777.6,1009.6 777.9,1012.7 778.3,1015.8 778.6,1009.9 779.0,1013.2 779.3,1015.1 779.7,1021.9 780.0,1011.7 780.4,1014.7 780.7,1017.1 781.1,1015.4 781.4,1011.4 781.8,1016.5 782.1,1015.6 782.5,1016.6 782.8,1018.8 783.2,1018.3 783.5,1016.1 783.9,1015.4 784.2,1010.4 784.6,1012.9 784.9,1013.4 785.3,1010.9 785.6,1012.3 786.0,1009.2 786.3,1016.9 786.7,1019.1 787.0,1011.4 787.4,1014.4 787.7,1012.7 788.1,1017.7 788.4,1015.1 788.8,1013.9 789.1,1012.7 789.5,1013.5 789.8,1009.5 790.2,1014.5 790.5,1009.8 790.9,1013.7 791.2,1012.3 791.6,1015.4 791.9,1011.9 792.3,1015.3 792.6,1009.2 793.0,1014.1 793.3,1011.5 793.7,1012.9 794.0,1012.6 794.4,1015.3 794.7,1005.7 795.1,1013.0 795.4,1007.0 795.8,1015.5 796.1,1005.2 796.5,1008.1 796.8,1005.9 797.2,1016.4 797.5,1007.0 797.9,1011.6 798.2,1009.7 798.6,1006.0 798.9,1011.1 799.3,1014.7 799.6,1012.5 800.0,1016.5 800.3,1012.6 800.7,1014.0 801.0,1012.9 801.4,1015.3 801.7,1020.3 802.1,1015.4 802.4,1014.8 802.8,1012.0 803.1,1011.4 803.5,1018.3 803.8,1009.9 804.2,1010.5 804.5,1013.2 804.9,1012.4 805.2,1020.4 805.6,1007.1 805.9,1016.4 806.3,1018.2 806.6,1012.8 807.0,1014.8 807.3,1018.6 807.7,1022.5 808.0,1014.2 808.4,1011.7 808.7,1019.3 809.1,1020.4 809.4,1013.7 809.8,1007.0 810.1,1018.2 810.5,1012.6 810.8,1016.8 811.2,1013.2 811.5,1012.4 811.9,1012.6 812.2,1019.2 812.6,1019.4 812.9,1008.1 813.3,1012.0 813.6,1020.8 814.0,1013.8 814.3,1010.6 814.7,1015.2 815.0,1015.1 815.4,1015.5 815.7,1014.8 816.1,1015.9 816.4,1015.9 816.8,1018.9 817.1,1015.3 817.5,1017.0 817.8,1017.4 818.2,1021.9 818.5,1018.9 818.9,1017.4 819.2,1018.9 819.6,1018.1 819.9,1020.0 820.3,1017.8 820.6,1021.5 821.0,1019.4 821.3,1014.1 821.7,1012.0 822.0,1015.2 822.4,1013.1 822.7,1010.4 823.1,1005.3 823.4,1003.7 823.8,1010.5 824.1,1011.7 824.5,1011.5 824.8,1004.4 825.2,1011.3 825.5,1005.5 825.9,1007.7 826.2,1007.0 826.6,1002.3 826.9,1003.0 827.3,998.3 827.6,1002.3 828.0,999.7 828.3,1007.3 828.7,1006.5 829.0,1009.6 829.4,1008.2 829.7,1005.4 830.1,1009.0 830.4,1007.0 830.8,1010.6 831.1,1009.8 831.5,1005.6 831.8,1008.6 832.2,1008.5 832.5,1006.8 832.9,1010.2 833.2,1012.3 833.6,1005.2 833.9,1005.0 834.3,998.7 834.6,1005.6 835.0,1004.7 835.3,999.3 835.7,1007.6 836.0,1009.0 836.4,1005.1 836.7,1006.8 837.1,1005.4 837.4,1011.6 837.8,1004.8 838.1,1009.2 838.5,1017.0 838.8,1011.2 839.2,1012.9 839.5,1011.3 839.9,1008.3 840.2,1012.3 840.6,1013.9 840.9,1009.4 841.3,1013.9 841.6,1016.7 842.0,1015.8 842.3,1006.7 842.7,1008.0 843.0,1005.3 843.4,1013.3 843.7,1011.2 844.1,1011.1 844.4,1005.8 844.8,1005.0 845.1,1009.4 845.5,1009.9 845.8,1007.3 846.2,1010.9 846.5,1012.7 846.9,1011.1 847.2,1006.6 847.6,1002.5 847.9,1007.9 848.3,1008.7 848.6,1006.9 849.0,1006.2 849.3,1005.3 849.7,1010.0 850.0,1007.7 850.4,1008.4 850.7,1005.0 851.1,1006.2 851.4,1008.7 851.8,1004.9 852.1,1004.0 852.5,1006.9 852.8,1011.9 853.2,1008.5 853.5,1012.4 853.9,1007.0 854.2,1006.1 854.6,1002.4 854.9,1004.9 855.3,1011.4 855.6,1007.8 856.0,1009.3 856.3,1009.4 856.7,1007.3 857.0,1006.8 857.4,1008.0 857.7,1009.7 858.1,1009.0 858.4,1009.1 858.8,1007.8 859.1,1004.6 859.5,1006.0 859.8,1003.5 860.2,1009.6 860.5,999.2 860.9,1005.1 861.2,1013.3 861.6,1004.2 861.9,1001.6 862.3,1005.4 862.6,1010.0 863.0,1005.8 863.3,1009.0 863.7,1008.0 864.0,1007.0 864.4,1019.0 864.7,1009.3 865.1,1007.6 865.4,1008.1 865.8,1011.3 866.1,1011.9 866.5,1013.6 866.8,1012.0 867.2,1007.3 867.5,1014.1 867.9,1011.6 868.2,1011.9 868.6,1008.2 868.9,1011.3 869.3,1011.1 869.6,1013.6 870.0,1009.3 870.3,1014.7 870.7,1015.4 871.0,1011.8 871.4,1013.9 871.7,1013.5 872.1,1019.4 872.4,1008.1 872.8,1014.9 873.1,1010.1 873.5,1013.6 873.8,1017.1 874.2,1011.7 874.5,1013.7 874.9,1010.1 875.2,1019.1 875.6,1015.8 875.9,1016.8 876.3,1009.2 876.6,1010.7 877.0,1018.5 877.3,1015.0 877.7,1015.3 878.0,1017.3 878.4,1011.9 878.7,1018.2 879.1,1015.3 879.4,1016.7 879.8,1013.1 880.1,1017.5 880.5,1014.2 880.8,1020.3 881.2,1021.5 881.5,1021.2 881.9,1020.1 882.2,1020.6 882.6,1009.6 882.9,1021.3 883.3,1017.7 883.6,1019.0 884.0,1017.8 884.3,1014.2 884.7,1017.0 885.0,1020.9 885.4,1023.4 885.7,1016.8 886.1,1015.9 886.4,1023.8 886.8,1016.2 887.1,1026.1 887.5,1019.3 887.8,1015.8 888.2,1021.4 888.5,1023.2 888.9,1012.4 889.2,1021.7 889.6,1015.1 889.9,1020.4 890.3,1013.7 890.6,1009.2 891.0,1015.5 891.3,1016.3 891.7,1019.6 892.0,1017.8 892.4,1014.0 892.7,1010.7 893.1,1009.6 893.4,1010.4 893.8,1008.7 894.1,1010.6 894.5,1003.2 894.8,1012.1 895.2,1011.3 895.5,1019.7 895.9,1013.4 896.2,1009.1 896.6,1012.3 896.9,1006.1 897.3,1008.1 897.6,1004.1 898.0,1015.2 898.3,1012.7 898.7,1007.0 899.0,1010.8 899.4,1014.1 899.7,1012.3 900.1,1011.5 900.4,1007.0 900.8,1007.3 901.1,1009.3 901.5,1011.8 901.8,1005.9 902.2,1004.8 902.5,1012.3 902.9,1005.3 903.2,1012.1 903.6,1009.4 903.9,1011.9 904.3,1015.4 904.6,1012.5 905.0,1013.6 905.3,1008.5 905.7,1009.9 906.0,1014.8 906.4,1018.0 906.7,1017.4 907.1,1020.2 907.4,1012.6 907.8,1011.4 908.1,1013.1 908.5,1008.5 908.8,1007.0 909.2,1002.5 909.5,1008.6 909.9,1000.7 910.2,1005.9 910.6,999.2 910.9,1008.5 911.3,1001.7 911.6,1009.2 912.0,1001.7 912.3,1006.6 912.7,1013.1 913.0,1006.6 913.4,1009.8 913.7,1007.8 914.1,1000.8 914.4,1009.6 914.8,1009.2 915.1,1002.8 915.5,1008.0 915.8,1002.2 916.2,1000.8 916.5,1003.9 916.9,1001.0 917.2,1011.6 917.6,997.5 917.9,1005.8 918.3,1006.7 918.6,995.9 919.0,996.8 919.3,1005.4 919.7,1001.8 920.0,1005.3 920.4,1008.5 920.7,1003.3 921.1,1001.2 921.4,995.3 921.8,1006.5 922.1,1002.5 922.5,1007.3 922.8,1007.1 923.2,1001.2 923.5,1012.9 923.9,1010.6 924.2,1009.8 924.6,1002.1 924.9,1004.8 925.3,1003.9 925.6,1003.9 926.0,1000.6 926.3,1005.7 926.7,1004.2 927.0,1004.0 927.4,1000.2 927.7,1006.6 928.1,1002.1 928.4,990.8 928.8,999.3 929.1,1001.9 929.5,1006.2 929.8,1001.5 930.2,1001.7 930.5,1000.0 930.9,1005.0 931.2,1000.5 931.6,999.9 931.9,999.4 932.3,1004.8 932.6,1001.1 933.0,997.5 933.3,1007.5 933.7,1003.5 934.0,1008.8 934.4,1009.9 934.7,1014.2 935.1,1014.3 935.4,1008.4 935.8,1010.3 936.1,1005.9 936.5,1017.6 936.8,1012.5 937.2,1016.0 937.5,1009.0 937.9,1001.8 938.2,1016.0 938.6,1010.1 938.9,1010.1 939.3,1009.8 939.6,1012.3 940.0,1012.2 940.3,1004.2 940.7,1015.8 941.0,1010.1 941.4,1011.2 941.7,1020.8 942.1,1018.1 942.4,1012.6 942.8,1005.9 943.1,1013.6 943.5,1014.5 943.8,1011.3 944.2,1005.9 944.5,1007.1 944.9,1004.6 945.2,1010.2 945.6,1012.4 945.9,1013.0 946.3,1005.5 946.6,1009.3 947.0,1010.4 947.3,1005.7 947.7,1006.8 948.0,1015.8 948.4,1007.6 948.7,1010.4 949.1,1005.0 949.4,1007.4 949.8,1000.5 950.1,1008.3 950.5,1014.1 950.8,1018.6 951.2,1015.3 951.5,1013.5 951.9,1011.0 952.2,1008.2 952.6,1009.9 952.9,1012.8 953.3,1006.3 953.6,1012.9 954.0,1003.9 954.3,999.8 954.7,1002.6 955.0,999.7 955.4,1001.2 955.7,1012.5 956.1,1007.5 956.4,1009.9 956.8,1014.5 957.1,1015.1 957.5,1007.3 957.8,1014.9 958.2,1010.1 958.5,1007.8 958.9,1009.1 959.2,1000.3 959.6,1002.5 959.9,1005.0 960.3,1007.7 960.6,1003.0 961.0,1003.8 961.3,1008.6 961.7,1010.7 962.0,1008.0 962.4,1010.6 962.7,1003.5 963.1,1004.3 963.4,1007.3 963.8,1004.7 964.1,1003.9 964.5,1013.7 964.8,1005.6 965.2,1002.3 965.5,1009.1 965.9,1015.5 966.2,1007.8 966.6,1013.2 966.9,1005.7 967.3,1005.3 967.6,1004.1 968.0,1006.2 968.3,1014.8 968.7,1000.7 969.0,1013.1 969.4,1000.7 969.7,1004.1 970.1,1008.9 970.4,1008.0 970.8,1006.5 971.1,997.8 971.5,1007.2 971.8,1001.0 972.2,1017.9 972.5,1005.2 972.9,1007.4 973.2,1001.5 973.6,1005.0 973.9,1001.6 974.3,1012.6 974.6,1007.2 975.0,1011.3 975.3,1005.7 975.7,1006.8 976.0,1015.5 976.4,1005.3 976.7,1002.0 977.1,1012.9 977.4,1006.0 977.8,1009.5 978.1,1015.9 978.5,1007.5 978.8,1015.3 979.2,1007.6 979.5,1017.9 979.9,1017.1 980.2,1008.6 980.6,1010.0 980.9,1007.2 981.3,1012.3" fill="none" stroke="#138c62" stroke-width="1.6" stroke-linejoin="round"/>
<line x1="632" y1="897.1" x2="632" y2="915.5" stroke="#000" stroke-width="2.2"/>
<path d="M624.2,914.5 L639.8,914.5 L632.0,930.2 Z" fill="#000"/>
<line x1="995" y1="1000.9" x2="995" y2="1049.3" stroke="#000" stroke-width="2"/>
<line x1="938.2" y1="1048.3" x2="996" y2="1048.3" stroke="#000" stroke-width="2"/>
<text x="1009.4" y="1013.4" font-size="25.3">10%</text>
<text x="1001.5" y="1043.3" font-size="25">ΔF/F<tspan font-size="16.5" dy="6.2">0</tspan></text>
<text x="936.3" y="1077.6" font-size="25.3">5 min</text>
<text x="1181.7" y="852.3" fill="#5b95d6">Opto-stimulation @ 1s</text>
<line x1="1183.1" y1="873" x2="1475.9" y2="873" stroke="#6aa3dc" stroke-width="3"/>
<line x1="1213.2" y1="936.4" x2="1213.2" y2="949.5" stroke="#8fa9d6" stroke-width="1.2"/>
<line x1="1327.8" y1="936.4" x2="1327.8" y2="949.5" stroke="#8fa9d6" stroke-width="1.2"/>
<line x1="1442.3" y1="936.4" x2="1442.3" y2="949.5" stroke="#8fa9d6" stroke-width="1.2"/>
<path d="M1133.5,997.0 1133.8,998.4 1134.2,996.4 1134.5,999.9 1134.9,998.3 1135.2,995.9 1135.6,1001.2 1135.9,997.0 1136.3,999.3 1136.6,997.6 1137.0,1000.7 1137.3,996.6 1137.7,996.8 1138.0,998.1 1138.4,995.1 1138.7,997.9 1139.1,999.6 1139.4,997.8 1139.8,998.6 1140.1,998.5 1140.5,1000.8 1140.8,1000.4 1141.2,1001.5 1141.5,998.0 1141.9,1001.7 1142.2,997.6 1142.6,998.8 1142.9,995.2 1143.3,993.6 1143.6,998.9 1144.0,994.7 1144.3,1000.8 1144.7,994.3 1145.0,994.9 1145.4,995.2 1145.7,999.7 1146.1,997.6 1146.4,998.5 1146.8,1002.7 1147.1,999.1 1147.5,1003.0 1147.8,1006.9 1148.2,1000.8 1148.5,999.0 1148.9,1007.0 1149.2,1005.2 1149.6,999.2 1149.9,1003.4 1150.3,997.4 1150.6,1003.5 1151.0,1003.3 1151.3,997.4 1151.7,1002.7 1152.0,1001.0 1152.4,1002.6 1152.7,1003.3 1153.1,1000.7 1153.4,1004.3 1153.8,1003.4 1154.1,1005.1 1154.5,1001.8 1154.8,998.9 1155.2,1011.1 1155.5,1002.8 1155.9,1003.0 1156.2,999.9 1156.6,1008.0 1156.9,1001.3 1157.3,1000.6 1157.6,1003.2 1158.0,1005.9 1158.3,1005.4 1158.7,1000.6 1159.0,1008.8 1159.4,1009.8 1159.7,1007.8 1160.1,1006.1 1160.4,1007.1 1160.8,1012.1 1161.1,1004.5 1161.5,1007.9 1161.8,1006.9 1162.2,1005.6 1162.5,1006.7 1162.9,1006.5 1163.2,1012.0 1163.6,1009.2 1163.9,1004.7 1164.3,1004.3 1164.6,1006.2 1165.0,1009.6 1165.3,1007.3 1165.7,1008.4 1166.0,1009.6 1166.4,1005.7 1166.7,1008.4 1167.1,1006.9 1167.4,1008.6 1167.8,1006.0 1168.1,1009.4 1168.5,1003.7 1168.8,1004.1 1169.2,1001.7 1169.5,1004.7 1169.9,1003.9 1170.2,997.8 1170.6,998.8 1170.9,1000.4 1171.3,1001.6 1171.6,1007.6 1172.0,1003.4 1172.3,1003.5 1172.7,1004.9 1173.0,1004.6 1173.4,1006.8 1173.7,1003.7 1174.1,1002.7 1174.4,1005.6 1174.8,1007.2 1175.1,1004.9 1175.5,1002.9 1175.8,1005.1 1176.2,1003.7 1176.5,1002.2 1176.9,1006.7 1177.2,1002.0 1177.6,1002.2 1177.9,1000.5 1178.3,1002.1 1178.6,1004.1 1179.0,999.1 1179.3,1002.4 1179.7,1000.7 1180.0,999.0 1180.4,1007.2 1180.7,1001.2 1181.1,1001.9 1181.4,997.3 1181.8,1007.6 1182.1,1002.2 1182.5,1002.3 1182.8,1004.8 1183.2,1001.9 1183.5,1002.5 1183.9,999.6 1184.2,1001.6 1184.6,1001.9 1184.9,1005.7 1185.3,1007.5 1185.6,1001.1 1186.0,1006.4 1186.3,1006.0 1186.7,1004.7 1187.0,1004.5 1187.4,1005.3 1187.7,1004.2 1188.1,1009.3 1188.4,1001.2 1188.8,1004.9 1189.1,1007.2 1189.5,1006.0 1189.8,1005.3 1190.2,1007.9 1190.5,1006.7 1190.9,1008.8 1191.2,1008.2 1191.6,1006.4 1191.9,1006.6 1192.3,1007.0 1192.6,1002.1 1193.0,1004.2 1193.3,1006.0 1193.7,1002.4 1194.0,1002.9 1194.4,1001.8 1194.7,1001.6 1195.1,997.9 1195.4,1000.6 1195.8,1002.4 1196.1,996.1 1196.5,995.3 1196.8,1000.6 1197.2,1001.6 1197.5,1002.5 1197.9,1004.1 1198.2,999.8 1198.6,1002.9 1198.9,1003.9 1199.3,1003.5 1199.6,1000.0 1200.0,1000.4 1200.3,1001.7 1200.7,1002.9 1201.0,1002.1 1201.4,999.6 1201.7,1004.9 1202.1,1005.7 1202.4,1007.6 1202.8,1001.7 1203.1,1002.7 1203.5,1004.6 1203.8,1000.6 1204.2,1001.9 1204.5,1001.8 1204.9,1007.4 1205.2,1006.2 1205.6,1003.8 1205.9,1001.9 1206.3,1004.1 1206.6,1007.9 1207.0,1005.1 1207.3,1007.1 1207.7,1004.1 1208.0,1007.5 1208.4,1002.5 1208.7,1002.9 1209.1,1003.3 1209.4,1001.2 1209.8,1002.0 1210.1,1001.9 1210.5,1000.7 1210.8,1006.1 1211.2,1004.2 1211.5,1001.6 1211.9,1001.5 1212.2,1003.2 1212.6,1000.3 1212.9,1004.8 1213.3,988.3 1213.6,969.0 1214.0,973.8 1214.3,970.4 1214.7,973.0 1215.0,974.3 1215.4,970.4 1215.7,977.7 1216.1,979.4 1216.4,977.6 1216.8,984.3 1217.1,983.8 1217.5,985.3 1217.8,993.6 1218.2,994.5 1218.5,994.1 1218.9,1001.8 1219.2,1004.0 1219.6,1001.3 1219.9,1003.6 1220.3,1006.7 1220.6,995.5 1221.0,1006.3 1221.3,1001.7 1221.7,1000.4 1222.0,1008.3 1222.4,1003.5 1222.7,1001.2 1223.1,1008.0 1223.4,1002.6 1223.8,1006.9 1224.1,1005.6 1224.5,1007.0 1224.8,1005.7 1225.2,1002.8 1225.5,1004.7 1225.9,1005.2 1226.2,1006.0 1226.6,1006.1 1226.9,1004.5 1227.3,1005.1 1227.6,1007.3 1228.0,1007.7 1228.3,1015.8 1228.7,1010.7 1229.0,1010.2 1229.4,1011.3 1229.7,1009.9 1230.1,1012.5 1230.4,1007.4 1230.8,1008.7 1231.1,1005.5 1231.5,1008.9 1231.8,1007.3 1232.2,1003.1 1232.5,1006.5 1232.9,1011.6 1233.2,1009.5 1233.6,1009.6 1233.9,1006.9 1234.3,1011.9 1234.6,1008.6 1235.0,1004.1 1235.3,1005.1 1235.7,1009.2 1236.0,1004.5 1236.4,1008.9 1236.7,1010.1 1237.1,1002.4 1237.4,1004.9 1237.8,1006.5 1238.1,1006.4 1238.5,1006.7 1238.8,1009.0 1239.2,1009.5 1239.5,1008.1 1239.9,1005.7 1240.2,1006.9 1240.6,1006.7 1240.9,1005.1 1241.3,1003.6 1241.6,1003.3 1242.0,1007.1 1242.3,1005.9 1242.7,1004.4 1243.0,1005.4 1243.4,1010.1 1243.7,1004.8 1244.1,1007.3 1244.4,1010.6 1244.8,1008.8 1245.1,1005.0 1245.5,1011.1 1245.8,1008.3 1246.2,1011.4 1246.5,1011.0 1246.9,1015.7 1247.2,1012.0 1247.6,1009.7 1247.9,1012.0 1248.3,1011.7 1248.6,1011.4 1249.0,1016.3 1249.3,1014.2 1249.7,1013.1 1250.0,1008.9 1250.4,1011.1 1250.7,1018.3 1251.1,1015.7 1251.4,1015.1 1251.8,1014.5 1252.1,1009.7 1252.5,1013.6 1252.8,1016.0 1253.2,1014.7 1253.5,1012.5 1253.9,1014.9 1254.2,1015.7 1254.6,1010.7 1254.9,1010.4 1255.3,1011.1 1255.6,1008.7 1256.0,1009.7 1256.3,1009.9 1256.7,1009.2 1257.0,1011.3 1257.4,1009.5 1257.7,1010.5 1258.1,1015.0 1258.4,1013.2 1258.8,1013.2 1259.1,1012.5 1259.5,1012.7 1259.8,1013.4 1260.2,1016.5 1260.5,1011.8 1260.9,1011.8 1261.2,1012.7 1261.6,1015.5 1261.9,1013.7 1262.3,1017.3 1262.6,1015.7 1263.0,1014.2 1263.3,1016.3 1263.7,1016.7 1264.0,1011.6 1264.4,1016.9 1264.7,1015.6 1265.1,1011.5 1265.4,1012.7 1265.8,1012.2 1266.1,1017.0 1266.5,1017.0 1266.8,1018.7 1267.2,1014.2 1267.5,1021.7 1267.9,1016.0 1268.2,1013.6 1268.6,1013.4 1268.9,1013.7 1269.3,1011.8 1269.6,1016.0 1270.0,1013.2 1270.3,1015.0 1270.7,1018.0 1271.0,1016.3 1271.4,1016.3 1271.7,1013.9 1272.1,1018.4 1272.4,1014.4 1272.8,1015.4 1273.1,1020.0 1273.5,1010.6 1273.8,1016.9 1274.2,1014.6 1274.5,1010.9 1274.9,1014.3 1275.2,1016.4 1275.6,1013.5 1275.9,1016.6 1276.3,1013.0 1276.6,1015.1 1277.0,1011.9 1277.3,1007.7 1277.7,1013.1 1278.0,1008.2 1278.4,1014.8 1278.7,1016.6 1279.1,1020.0 1279.4,1016.5 1279.8,1013.7 1280.1,1019.3 1280.5,1015.0 1280.8,1018.8 1281.2,1015.4 1281.5,1012.2 1281.9,1014.2 1282.2,1014.5 1282.6,1017.5 1282.9,1018.3 1283.3,1015.3 1283.6,1015.9 1284.0,1013.5 1284.3,1016.8 1284.7,1015.7 1285.0,1011.7 1285.4,1017.2 1285.7,1017.3 1286.1,1013.7 1286.4,1016.2 1286.8,1017.3 1287.1,1017.2 1287.5,1012.4 1287.8,1011.0 1288.2,1012.1 1288.5,1014.3 1288.9,1012.7 1289.2,1014.4 1289.6,1011.1 1289.9,1016.3 1290.3,1016.7 1290.6,1015.5 1291.0,1015.5 1291.3,1015.6 1291.7,1017.5 1292.0,1016.6 1292.4,1018.2 1292.7,1019.1 1293.1,1016.6 1293.4,1018.6 1293.8,1016.1 1294.1,1016.3 1294.5,1016.9 1294.8,1016.1 1295.2,1017.1 1295.5,1019.0 1295.9,1018.6 1296.2,1016.6 1296.6,1019.9 1296.9,1019.4 1297.3,1021.2 1297.6,1018.3 1298.0,1019.2 1298.3,1016.9 1298.7,1016.5 1299.0,1019.7 1299.4,1019.2 1299.7,1018.1 1300.1,1014.7 1300.4,1021.3 1300.8,1014.7 1301.1,1012.8 1301.5,1014.1 1301.8,1004.9 1302.2,1009.3 1302.5,1004.9 1302.9,1002.2 1303.2,1004.9 1303.6,998.6 1303.9,999.1 1304.3,1004.7 1304.6,995.4 1305.0,1000.6 1305.3,999.8 1305.7,1001.6 1306.0,1001.3 1306.4,1001.1 1306.7,1003.8 1307.1,1002.1 1307.4,1001.3 1307.8,997.5 1308.1,1001.9 1308.5,1002.3 1308.8,998.7 1309.2,1001.6 1309.5,1000.0 1309.9,1000.5 1310.2,1005.2 1310.6,1004.4 1310.9,1004.5 1311.3,1002.4 1311.6,1003.2 1312.0,1001.2 1312.3,1003.8 1312.7,1005.5 1313.0,1003.8 1313.4,1009.8 1313.7,1008.4 1314.1,1008.3 1314.4,1006.2 1314.8,1012.2 1315.1,1007.5 1315.5,1006.8 1315.8,1010.1 1316.2,1010.1 1316.5,1009.8 1316.9,1009.2 1317.2,1009.3 1317.6,1007.4 1317.9,1008.1 1318.3,1011.0 1318.6,1007.5 1319.0,1007.7 1319.3,1010.0 1319.7,1007.0 1320.0,1009.2 1320.4,1006.2 1320.7,1011.3 1321.1,1011.3 1321.4,1011.1 1321.8,1011.4 1322.1,1008.4 1322.5,1011.0 1322.8,1006.3 1323.2,1006.2 1323.5,1008.8 1323.9,1008.0 1324.2,1011.6 1324.6,1016.0 1324.9,1010.9 1325.3,1012.3 1325.6,1010.8 1326.0,1015.3 1326.3,1013.3 1326.7,1010.6 1327.0,1007.0 1327.4,1006.0 1327.7,998.0 1328.1,984.4 1328.4,970.0 1328.8,972.7 1329.1,974.7 1329.5,974.9 1329.8,981.7 1330.2,982.7 1330.5,985.1 1330.9,991.9 1331.2,993.7 1331.6,996.3 1331.9,999.0 1332.3,996.9 1332.6,994.1 1333.0,1000.4 1333.3,1001.8 1333.7,996.1 1334.0,1003.2 1334.4,998.2 1334.7,1000.8 1335.1,1004.2 1335.4,1003.8 1335.8,1008.0 1336.1,1006.9 1336.5,1004.2 1336.8,1005.0 1337.2,1008.6 1337.5,1004.2 1337.9,1011.5 1338.2,1009.3 1338.6,1011.3 1338.9,1009.8 1339.3,1008.8 1339.6,1013.2 1340.0,1011.0 1340.3,1014.8 1340.7,1015.2 1341.0,1018.5 1341.4,1012.7 1341.7,1015.1 1342.1,1016.1 1342.4,1016.1 1342.8,1014.1 1343.1,1009.1 1343.5,1014.9 1343.8,1012.2 1344.2,1007.8 1344.5,1012.9 1344.9,1008.7 1345.2,1006.7 1345.6,1009.8 1345.9,1010.5 1346.3,1008.4 1346.6,1008.6 1347.0,1008.3 1347.3,1008.4 1347.7,1009.5 1348.0,1009.8 1348.4,1011.8 1348.7,1003.8 1349.1,1008.8 1349.4,1006.7 1349.8,1007.9 1350.1,1008.5 1350.5,1009.5 1350.8,1010.8 1351.2,1006.8 1351.5,1005.1 1351.9,1006.6 1352.2,1009.3 1352.6,1009.7 1352.9,1010.1 1353.3,1007.6 1353.6,1008.6 1354.0,1009.6 1354.3,1009.9 1354.7,1005.9 1355.0,1005.3 1355.4,1003.5 1355.7,1004.6 1356.1,1007.7 1356.4,1007.2 1356.8,1008.5 1357.1,1009.3 1357.5,1004.8 1357.8,1008.0 1358.2,1007.7 1358.5,1008.2 1358.9,1000.2 1359.2,1008.0 1359.6,1005.2 1359.9,1000.5 1360.3,1003.7 1360.6,1009.0 1361.0,1007.1 1361.3,1006.9 1361.7,1008.5 1362.0,1009.6 1362.4,1006.0 1362.7,1002.2 1363.1,1006.3 1363.4,1009.8 1363.8,1005.1 1364.1,1006.6 1364.5,1004.8 1364.8,1007.7 1365.2,1002.8 1365.5,1008.9 1365.9,1008.7 1366.2,1011.4 1366.6,1008.6 1366.9,1007.1 1367.3,1008.6 1367.6,1010.7 1368.0,1010.6 1368.3,1016.0 1368.7,1016.4 1369.0,1011.0 1369.4,1012.8 1369.7,1009.2 1370.1,1013.2 1370.4,1014.9 1370.8,1010.8 1371.1,1006.4 1371.5,1013.2 1371.8,1008.0 1372.2,1013.5 1372.5,1006.0 1372.9,1012.4 1373.2,1014.1 1373.6,1010.6 1373.9,1008.4 1374.3,1008.6 1374.6,1003.3 1375.0,1004.5 1375.3,1007.7 1375.7,1007.1 1376.0,1000.9 1376.4,1000.2 1376.7,1003.6 1377.1,997.6 1377.4,1004.2 1377.8,1001.7 1378.1,1002.5 1378.5,1001.5 1378.8,1002.6 1379.2,998.5 1379.5,1000.4 1379.9,1005.9 1380.2,1004.0 1380.6,999.5 1380.9,1005.6 1381.3,1003.9 1381.6,1007.5 1382.0,1003.2 1382.3,1003.2 1382.7,999.1 1383.0,1005.8 1383.4,1001.9 1383.7,1001.6 1384.1,1003.6 1384.4,1001.1 1384.8,1004.3 1385.1,1005.5 1385.5,1004.6 1385.8,1006.5 1386.2,1008.2 1386.5,1006.4 1386.9,1003.3 1387.2,1007.8 1387.6,1009.5 1387.9,1008.9 1388.3,1005.7 1388.6,1007.6 1389.0,1010.7 1389.3,1006.5 1389.7,1006.3 1390.0,1004.4 1390.4,1007.2 1390.7,1010.9 1391.1,1006.2 1391.4,1002.7 1391.8,1005.0 1392.1,1008.2 1392.5,1003.6 1392.8,1005.5 1393.2,1010.1 1393.5,1006.9 1393.9,1012.0 1394.2,1008.7 1394.6,1010.1 1394.9,1006.1 1395.3,1009.8 1395.6,1007.1 1396.0,1006.5 1396.3,1015.2 1396.7,1009.3 1397.0,1008.3 1397.4,1012.8 1397.7,1008.5 1398.1,1011.5 1398.4,1009.7 1398.8,1014.2 1399.1,1009.7 1399.5,1013.2 1399.8,1011.1 1400.2,1015.2 1400.5,1010.0 1400.9,1008.6 1401.2,1015.3 1401.6,1009.2 1401.9,1015.0 1402.3,1011.6 1402.6,1011.1 1403.0,1016.4 1403.3,1010.8 1403.7,1012.2 1404.0,1012.3 1404.4,1013.4 1404.7,1012.3 1405.1,1016.5 1405.4,1014.7 1405.8,1015.0 1406.1,1013.4 1406.5,1020.0 1406.8,1014.1 1407.2,1016.3 1407.5,1015.7 1407.9,1014.3 1408.2,1016.0 1408.6,1014.2 1408.9,1015.4 1409.3,1013.8 1409.6,1011.2 1410.0,1012.4 1410.3,1011.1 1410.7,1015.3 1411.0,1012.5 1411.4,1014.2 1411.7,1011.5 1412.1,1016.9 1412.4,1014.9 1412.8,1018.6 1413.1,1012.5 1413.5,1014.9 1413.8,1016.4 1414.2,1014.7 1414.5,1019.5 1414.9,1017.6 1415.2,1020.3 1415.6,1018.5 1415.9,1018.2 1416.3,1018.8 1416.6,1015.5 1417.0,1018.9 1417.3,1021.2 1417.7,1016.1 1418.0,1014.5 1418.4,1017.3 1418.7,1020.4 1419.1,1019.4 1419.4,1021.3 1419.8,1017.3 1420.1,1015.6 1420.5,1018.8 1420.8,1020.3 1421.2,1019.4 1421.5,1016.0 1421.9,1019.0 1422.2,1014.0 1422.6,1015.7 1422.9,1017.6 1423.3,1012.6 1423.6,1011.7 1424.0,1019.9 1424.3,1009.2 1424.7,1016.4 1425.0,1009.7 1425.4,1008.0 1425.7,1010.3 1426.1,1012.3 1426.4,1012.9 1426.8,1008.6 1427.1,1008.1 1427.5,1012.1 1427.8,1009.2 1428.2,1016.2 1428.5,1012.1 1428.9,1013.9 1429.2,1009.6 1429.6,1011.1 1429.9,1014.1 1430.3,1017.2 1430.6,1014.3 1431.0,1012.4 1431.3,1012.1 1431.7,1009.9 1432.0,1009.1 1432.4,1015.9 1432.7,1015.2 1433.1,1012.6 1433.4,1017.1 1433.8,1011.7 1434.1,1010.7 1434.5,1011.5 1434.8,1015.0 1435.2,1012.7 1435.5,1011.4 1435.9,1016.4 1436.2,1015.1 1436.6,1014.7 1436.9,1010.8 1437.3,1015.0 1437.6,1013.1 1438.0,1013.9 1438.3,1015.9 1438.7,1011.7 1439.0,1016.4 1439.4,1014.0 1439.7,1004.2 1440.1,1013.7 1440.4,1008.5 1440.8,1010.7 1441.1,1005.5 1441.5,1012.5 1441.8,1011.8 1442.2,1007.4 1442.5,1001.9 1442.9,988.2 1443.3,976.5 1443.6,975.4 1443.9,978.7 1444.3,980.5 1444.6,984.7 1445.0,985.9 1445.3,993.1 1445.7,988.4 1446.0,990.5 1446.4,996.1 1446.7,1003.6 1447.1,999.2 1447.4,1000.1 1447.8,1002.3 1448.1,1002.4 1448.5,1004.1 1448.8,999.8 1449.2,1002.6 1449.5,1003.0 1449.9,1004.8 1450.2,1007.4 1450.6,1001.2 1450.9,1006.2 1451.3,1008.2 1451.6,1006.0 1452.0,1007.4 1452.3,1005.9 1452.7,1001.9 1453.0,1005.8 1453.4,1005.3 1453.7,1006.7 1454.1,1006.5 1454.4,1004.1 1454.8,1007.8 1455.1,1006.8 1455.5,1005.8 1455.8,1001.2 1456.2,1012.8 1456.5,1008.4 1456.9,1004.6 1457.2,1008.5 1457.6,1006.9 1457.9,1008.3 1458.3,1009.4 1458.6,1013.1 1459.0,1011.4 1459.3,1009.9 1459.7,1008.4 1460.0,1010.0 1460.4,1012.1 1460.7,1007.0 1461.1,1009.8 1461.4,1005.6 1461.8,1010.1 1462.1,1012.0 1462.5,1008.7 1462.8,1005.5 1463.2,1005.2 1463.5,1004.4 1463.9,1007.0 1464.2,1006.2 1464.6,1008.4 1464.9,1004.6 1465.3,1009.2 1465.6,1007.2 1466.0,1004.7 1466.3,1010.7 1466.7,1009.2 1467.0,1012.6 1467.4,1009.9 1467.7,1012.2 1468.1,1009.9 1468.4,1013.9 1468.8,1013.1 1469.1,1013.7 1469.5,1012.4 1469.8,1011.4 1470.2,1011.2 1470.5,1013.5 1470.9,1007.5 1471.2,1009.9 1471.6,1008.6 1471.9,1008.5 1472.3,1005.5 1472.6,1007.5 1473.0,1012.3 1473.3,1006.6 1473.7,1008.5 1474.0,1009.9 1474.4,1004.6 1474.7,1007.3 1475.1,1011.1 1475.4,1010.0 1475.8,1005.7 1476.1,1012.3 1476.5,1000.5 1476.8,1009.2 1477.2,1012.1 1477.5,1007.3 1477.9,1009.8 1478.2,1009.7 1478.6,1013.2 1478.9,1012.7 1479.3,1009.2 1479.6,1014.6 1480.0,1011.0 1480.3,1010.6 1480.7,1007.9 1481.0,1009.1 1481.4,1012.3 1481.7,1015.8 1482.1,1009.0 1482.4,1009.6 1482.8,1007.7 1483.1,1012.4 1483.5,1018.7 1483.8,1013.0 1484.2,1009.5 1484.5,1011.0 1484.9,1011.7 1485.2,1009.4 1485.6,1010.3 1485.9,1008.7 1486.3,1010.8 1486.6,1011.8 1487.0,1010.6 1487.3,1012.7 1487.7,1003.9 1488.0,1009.2 1488.4,1008.4 1488.7,1011.5 1489.1,1010.9 1489.4,1006.5 1489.8,1010.5 1490.1,1007.9 1490.5,1007.5 1490.8,1009.1 1491.2,1009.2 1491.5,1004.9 1491.9,1002.9 1492.2,1013.2 1492.6,1009.7 1492.9,1008.9 1493.3,1011.3 1493.6,1015.6 1494.0,1005.2 1494.3,1010.6 1494.7,1013.4 1495.0,1012.5 1495.4,1009.8 1495.7,1013.2 1496.1,1014.1 1496.4,1011.3 1496.8,1015.2 1497.1,1010.3 1497.5,1008.8 1497.8,1015.1 1498.2,1012.3 1498.5,1013.0 1498.9,1010.1 1499.2,1011.0 1499.6,1012.0 1499.9,1013.8 1500.3,1017.0 1500.6,1016.3 1501.0,1016.1 1501.3,1012.8 1501.7,1012.4 1502.0,1011.7 1502.4,1012.5 1502.7,1011.0 1503.1,1014.8 1503.4,1017.5 1503.8,1016.6 1504.1,1009.2 1504.5,1012.5 1504.8,1014.8 1505.2,1013.3 1505.5,1011.6 1505.9,1008.4 1506.2,1007.5 1506.6,1015.0 1506.9,1012.0 1507.3,1014.7 1507.6,1016.7 1508.0,1013.2 1508.3,1015.7 1508.7,1011.1 1509.0,1009.8 1509.4,1013.9 1509.7,1009.0 1510.1,1018.7 1510.4,1012.9 1510.8,1013.1 1511.1,1014.8 1511.5,1013.3 1511.8,1012.0 1512.2,1016.1 1512.5,1014.3 1512.9,1012.5 1513.2,1012.6 1513.6,1015.8 1513.9,1014.1 1514.3,1010.9 1514.6,1013.8 1515.0,1014.0 1515.3,1008.6 1515.7,1011.0 1516.0,1012.7 1516.4,1014.2 1516.7,1011.5 1517.1,1006.7 1517.4,1008.4 1517.8,1007.3 1518.1,1009.8 1518.5,1006.5 1518.8,1009.5 1519.2,1009.8 1519.5,1009.9 1519.9,1008.7 1520.2,1005.5 1520.6,1017.6 1520.9,1013.4 1521.3,1010.7 1521.6,1012.0 1522.0,1011.0 1522.3,1010.3 1522.7,1007.2 1523.0,1012.7 1523.4,1013.7 1523.7,1010.4 1524.1,1009.1 1524.4,1013.7 1524.8,1011.4 1525.1,1007.5 1525.5,1010.3 1525.8,1011.7 1526.2,1014.0 1526.5,1013.7 1526.9,1011.7 1527.2,1018.1 1527.6,1009.6 1527.9,1009.8 1528.3,1009.0 1528.6,1015.5 1529.0,1016.7 1529.3,1015.6 1529.7,1014.1 1530.0,1015.7 1530.4,1013.1 1530.7,1014.0 1531.1,1018.8 1531.4,1014.6 1531.8,1012.4 1532.1,1013.2 1532.5,1013.2 1532.8,1014.2 1533.2,1018.9 1533.5,1017.1 1533.9,1018.5 1534.2,1013.9 1534.6,1011.3 1534.9,1014.8 1535.3,1016.2 1535.6,1013.1 1536.0,1010.1 1536.3,1015.2 1536.7,1017.0 1537.0,1014.3 1537.4,1012.2 1537.7,1017.3 1538.1,1019.5 1538.4,1013.8 1538.8,1017.0 1539.1,1016.9 1539.5,1014.7 1539.8,1016.9 1540.2,1012.9 1540.5,1016.8 1540.9,1013.4 1541.2,1014.7 1541.6,1020.5 1541.9,1017.4 1542.3,1013.8 1542.6,1021.0 1543.0,1018.7 1543.3,1013.4 1543.7,1020.7 1544.0,1018.6 1544.4,1017.8 1544.7,1017.1 1545.1,1019.5" fill="none" stroke="#138c62" stroke-width="1.5" stroke-linejoin="round"/>
<line x1="1558.4" y1="1000.3" x2="1558.4" y2="1048.7" stroke="#000" stroke-width="2"/>
<line x1="1512.8" y1="1047.7" x2="1559.4" y2="1047.7" stroke="#000" stroke-width="2"/>
<text x="1576.3" y="1013.6" font-size="25.3">10%</text>
<text x="1568.2" y="1043.4" font-size="25">ΔF/F<tspan font-size="16.5" dy="6.2">0</tspan></text>
<text x="1503.8" y="1077.3" font-size="25.3">2 min</text>
<text x="0.1" y="1183.4" font-size="33" font-weight="bold">d</text>
<line x1="313.6" y1="1421.4" x2="367.1" y2="1330" stroke="#dcdcdc" stroke-width="1.1"/>
<line x1="311.1" y1="1438.1" x2="374.3" y2="1381.2" stroke="#dcdcdc" stroke-width="1.1"/>
<line x1="316" y1="1433" x2="379" y2="1354.6" stroke="#dcdcdc" stroke-width="1.1"/>
<line x1="445.4" y1="1430.9" x2="506.4" y2="1254.1" stroke="#dcdcdc" stroke-width="1.1"/>
<line x1="443.5" y1="1440.4" x2="496.1" y2="1328.8" stroke="#dcdcdc" stroke-width="1.1"/>
<line x1="441" y1="1435" x2="498.9" y2="1338.3" stroke="#dcdcdc" stroke-width="1.1"/>
<rect x="293.6" y="1432.2" width="43.7" height="1.4" fill="#f4b4a4" stroke="#000" stroke-width="1.5"/>
<rect x="352.4" y="1355.0" width="42.7" height="78.2" fill="#fd3f1c" stroke="#000" stroke-width="1.8"/>
<rect x="423.6" y="1433.2" width="42.7" height="2.6" fill="#b8e6cf" stroke="#000" stroke-width="1.5"/>
<rect x="482.4" y="1307.0" width="42.7" height="126.2" fill="#0a9961" stroke="#000" stroke-width="1.8"/>
<line x1="313.6" y1="1421.4" x2="367.1" y2="1330" stroke="#ffffff" stroke-width="1.0" stroke-opacity="0.45"/>
<line x1="311.1" y1="1438.1" x2="374.3" y2="1381.2" stroke="#ffffff" stroke-width="1.0" stroke-opacity="0.45"/>
<line x1="316" y1="1433" x2="379" y2="1354.6" stroke="#ffffff" stroke-width="1.0" stroke-opacity="0.45"/>
<line x1="445.4" y1="1430.9" x2="506.4" y2="1254.1" stroke="#ffffff" stroke-width="1.0" stroke-opacity="0.45"/>
<line x1="443.5" y1="1440.4" x2="496.1" y2="1328.8" stroke="#ffffff" stroke-width="1.0" stroke-opacity="0.45"/>
<line x1="441" y1="1435" x2="498.9" y2="1338.3" stroke="#ffffff" stroke-width="1.0" stroke-opacity="0.45"/>
<line x1="373.7" y1="1340.4" x2="373.7" y2="1369.2" stroke="#222" stroke-width="1.1"/>
<line x1="371.7" y1="1340.4" x2="375.7" y2="1340.4" stroke="#222" stroke-width="1.1"/>
<line x1="371.7" y1="1369.2" x2="375.7" y2="1369.2" stroke="#222" stroke-width="1.1"/>
<line x1="315.5" y1="1426.2" x2="315.5" y2="1437.5" stroke="#222" stroke-width="1.1"/>
<line x1="313.5" y1="1426.2" x2="317.5" y2="1426.2" stroke="#222" stroke-width="1.1"/>
<line x1="313.5" y1="1437.5" x2="317.5" y2="1437.5" stroke="#222" stroke-width="1.1"/>
<line x1="503.3" y1="1280.7" x2="503.3" y2="1333.8" stroke="#222" stroke-width="1.1"/>
<line x1="501.3" y1="1280.7" x2="505.3" y2="1280.7" stroke="#222" stroke-width="1.1"/>
<line x1="501.3" y1="1333.8" x2="505.3" y2="1333.8" stroke="#222" stroke-width="1.1"/>
<line x1="444.5" y1="1431" x2="444.5" y2="1438" stroke="#222" stroke-width="1.1"/>
<line x1="442.5" y1="1431" x2="446.5" y2="1431" stroke="#222" stroke-width="1.1"/>
<line x1="442.5" y1="1438" x2="446.5" y2="1438" stroke="#222" stroke-width="1.1"/>
<circle cx="313.6" cy="1421.4" r="4.3" fill="#fff" stroke="#b4b4b4" stroke-width="1.3"/>
<circle cx="311.1" cy="1438.1" r="4.3" fill="#fff" stroke="#b4b4b4" stroke-width="1.3"/>
<circle cx="316" cy="1433" r="4.3" fill="#fff" stroke="#b4b4b4" stroke-width="1.3"/>
<circle cx="367.1" cy="1330" r="4.3" fill="#fff" stroke="#b4b4b4" stroke-width="1.3"/>
<circle cx="445.4" cy="1430.9" r="4.3" fill="#fff" stroke="#b4b4b4" stroke-width="1.3"/>
<circle cx="443.5" cy="1440.4" r="4.3" fill="#fff" stroke="#b4b4b4" stroke-width="1.3"/>
<circle cx="441" cy="1435" r="4.3" fill="#fff" stroke="#b4b4b4" stroke-width="1.3"/>
<circle cx="506.4" cy="1254.1" r="4.3" fill="#fff" stroke="#b4b4b4" stroke-width="1.3"/>
<circle cx="379" cy="1354.6" r="4.3" fill="#fff" stroke="#e8e8e8" stroke-width="1.3"/>
<circle cx="374.3" cy="1381.2" r="4.3" fill="#fff" stroke="#e8e8e8" stroke-width="1.3"/>
<circle cx="496.1" cy="1328.8" r="4.3" fill="#fff" stroke="#e8e8e8" stroke-width="1.3"/>
<circle cx="498.9" cy="1338.3" r="4.3" fill="#fff" stroke="#e8e8e8" stroke-width="1.3"/>
<line x1="259.8" y1="1182" x2="259.8" y2="1458.5" stroke="#000" stroke-width="1.8"/>
<line x1="252.8" y1="1433.2" x2="566.5" y2="1433.2" stroke="#000" stroke-width="1.8"/>
<line x1="252.8" y1="1207.1" x2="259.8" y2="1207.1" stroke="#000" stroke-width="1.6"/>
<line x1="252.8" y1="1282.1" x2="259.8" y2="1282.1" stroke="#000" stroke-width="1.6"/>
<line x1="252.8" y1="1357.5" x2="259.8" y2="1357.5" stroke="#000" stroke-width="1.6"/>
<text x="242.8" y="1214.4" font-size="27.5" text-anchor="end">18</text>
<text x="242.8" y="1286.8" font-size="27.5" text-anchor="end">12</text>
<text x="242.8" y="1361.6" font-size="27.5" text-anchor="end">6</text>
<text x="242.8" y="1435.9" font-size="27.5" text-anchor="end">0</text>
<path d="M313.2,1319 L313.2,1306.3 L374.6,1306.3 L374.6,1319" fill="none" stroke="#7d7d7d" stroke-width="1.15"/>
<path d="M442.3,1243.7 L442.3,1231.4 L503.3,1231.4 L503.3,1243.7" fill="none" stroke="#7d7d7d" stroke-width="1.15"/>
<text x="343.6" y="1303.6" font-size="35" font-weight="bold" text-anchor="middle">*</text>
<text x="472.7" y="1230.4" font-size="35" font-weight="bold" text-anchor="middle">*</text>
<text transform="translate(195.2,1414.0) rotate(-90)" font-size="28.5" letter-spacing="0.35">Peak ΔF/F<tspan font-size="19" dy="7">0</tspan><tspan dy="-7"> (%)</tspan></text>
<text x="30.2" y="1483.9">Opto-stimulation</text>
<text x="315.3" y="1482" font-size="28" text-anchor="middle">-</text>
<text x="370.5" y="1480" font-size="28" text-anchor="middle">+</text>
<text x="448" y="1482" font-size="28" text-anchor="middle">-</text>
<text x="503.4" y="1480" font-size="28" text-anchor="middle">+</text>
<line x1="298.4" y1="1488.6" x2="395.9" y2="1488.6" stroke="#000" stroke-width="1.8"/>
<line x1="428.9" y1="1488.6" x2="526.4" y2="1488.6" stroke="#000" stroke-width="1.8"/>
<text x="301.1" y="1519.6">rDA3m</text>
<text x="433.8" y="1519.6">gDA3h</text>
<text x="708.5" y="1183.6" font-size="33" font-weight="bold">e</text>
<line x1="953.3" y1="1431" x2="1009.3" y2="1248.4" stroke="#dcdcdc" stroke-width="1.1"/>
<line x1="954.2" y1="1439" x2="1016.8" y2="1265.6" stroke="#dcdcdc" stroke-width="1.1"/>
<line x1="952" y1="1435" x2="1021.2" y2="1237.7" stroke="#dcdcdc" stroke-width="1.1"/>
<line x1="1086.4" y1="1431.4" x2="1137.9" y2="1422.5" stroke="#dcdcdc" stroke-width="1.1"/>
<line x1="1082.8" y1="1435.5" x2="1148.5" y2="1431.4" stroke="#dcdcdc" stroke-width="1.1"/>
<line x1="1087.3" y1="1435.5" x2="1140.9" y2="1439.4" stroke="#dcdcdc" stroke-width="1.1"/>
<line x1="1220" y1="1428.7" x2="1276.3" y2="1416" stroke="#dcdcdc" stroke-width="1.1"/>
<line x1="1213.6" y1="1435.8" x2="1275.4" y2="1429.6" stroke="#dcdcdc" stroke-width="1.1"/>
<line x1="1219.5" y1="1444.7" x2="1276.3" y2="1436.7" stroke="#dcdcdc" stroke-width="1.1"/>
<rect x="936.3" y="1431.8" width="42.1" height="4.5" fill="#b7d6f4" stroke="#222" stroke-width="1.4"/>
<rect x="995.1" y="1251.0" width="42.1" height="180.8" fill="#283798" stroke="#1c2266" stroke-width="1.6"/>
<rect x="1066.0" y="1431.8" width="42.6" height="2.5" fill="#8c8c8c" stroke="#333" stroke-width="1.4"/>
<rect x="1124.5" y="1431.2" width="42.6" height="1.0" fill="#444" stroke="#000" stroke-width="1.2"/>
<rect x="1195.5" y="1431.8" width="43.0" height="4.9" fill="#c9eddb" stroke="#222" stroke-width="1.4"/>
<rect x="1254.5" y="1427.5" width="42.2" height="4.3" fill="#138f5c" stroke="#0b4d33" stroke-width="1.4"/>
<g stroke="#8f9be0" stroke-width="1">
<line x1="995.1" y1="1294.7021428571427" x2="1009.3" y2="1248.4" stroke="#8f9be0" stroke-width="1"/>
<line x1="995.1" y1="1325.7083067092651" x2="1016.8" y2="1265.6" stroke="#8f9be0" stroke-width="1"/>
<line x1="995.1" y1="1312.1151734104046" x2="1021.2" y2="1237.7" stroke="#8f9be0" stroke-width="1"/>
</g>
<line x1="1015.1" y1="1242.5" x2="1015.1" y2="1262" stroke="#222" stroke-width="1.1"/>
<line x1="1013.1" y1="1242.5" x2="1017.1" y2="1242.5" stroke="#222" stroke-width="1.1"/>
<line x1="1013.1" y1="1262" x2="1017.1" y2="1262" stroke="#222" stroke-width="1.1"/>
<line x1="957" y1="1431.8" x2="957" y2="1440" stroke="#222" stroke-width="1.1"/>
<line x1="955.0" y1="1431.8" x2="959.0" y2="1431.8" stroke="#222" stroke-width="1.1"/>
<line x1="955.0" y1="1440" x2="959.0" y2="1440" stroke="#222" stroke-width="1.1"/>
<line x1="1087.3" y1="1431.8" x2="1087.3" y2="1435.3" stroke="#222" stroke-width="1.1"/>
<line x1="1085.3" y1="1431.8" x2="1089.3" y2="1431.8" stroke="#222" stroke-width="1.1"/>
<line x1="1085.3" y1="1435.3" x2="1089.3" y2="1435.3" stroke="#222" stroke-width="1.1"/>
<line x1="1145.8" y1="1426.6" x2="1145.8" y2="1436.7" stroke="#222" stroke-width="1.1"/>
<line x1="1143.8" y1="1426.6" x2="1147.8" y2="1426.6" stroke="#222" stroke-width="1.1"/>
<line x1="1143.8" y1="1436.7" x2="1147.8" y2="1436.7" stroke="#222" stroke-width="1.1"/>
<line x1="1216.8" y1="1431.8" x2="1216.8" y2="1441.2" stroke="#222" stroke-width="1.1"/>
<line x1="1214.8" y1="1431.8" x2="1218.8" y2="1431.8" stroke="#222" stroke-width="1.1"/>
<line x1="1214.8" y1="1441.2" x2="1218.8" y2="1441.2" stroke="#222" stroke-width="1.1"/>
<line x1="1275.4" y1="1421.3" x2="1275.4" y2="1431.8" stroke="#222" stroke-width="1.1"/>
<line x1="1273.4" y1="1421.3" x2="1277.4" y2="1421.3" stroke="#222" stroke-width="1.1"/>
<line x1="1273.4" y1="1431.8" x2="1277.4" y2="1431.8" stroke="#222" stroke-width="1.1"/>
<circle cx="953.3" cy="1431" r="4.3" fill="#fff" stroke="#b4b4b4" stroke-width="1.3"/>
<circle cx="954.2" cy="1439" r="4.3" fill="#fff" stroke="#b4b4b4" stroke-width="1.3"/>
<circle cx="952" cy="1435" r="4.3" fill="#fff" stroke="#b4b4b4" stroke-width="1.3"/>
<circle cx="1021.2" cy="1237.7" r="4.3" fill="#fff" stroke="#b4b4b4" stroke-width="1.3"/>
<circle cx="1009.3" cy="1248.4" r="4.3" fill="#fff" stroke="#b4b4b4" stroke-width="1.3"/>
<circle cx="1086.4" cy="1431.4" r="4.3" fill="#fff" stroke="#b4b4b4" stroke-width="1.3"/>
<circle cx="1082.8" cy="1435.5" r="4.3" fill="#fff" stroke="#b4b4b4" stroke-width="1.3"/>
<circle cx="1087.3" cy="1435.5" r="4.3" fill="#fff" stroke="#b4b4b4" stroke-width="1.3"/>
<circle cx="1137.9" cy="1422.5" r="4.3" fill="#fff" stroke="#b4b4b4" stroke-width="1.3"/>
<circle cx="1148.5" cy="1431.4" r="4.3" fill="#fff" stroke="#b4b4b4" stroke-width="1.3"/>
<circle cx="1140.9" cy="1439.4" r="4.3" fill="#fff" stroke="#b4b4b4" stroke-width="1.3"/>
<circle cx="1220" cy="1428.7" r="4.3" fill="#fff" stroke="#b4b4b4" stroke-width="1.3"/>
<circle cx="1213.6" cy="1435.8" r="4.3" fill="#fff" stroke="#b4b4b4" stroke-width="1.3"/>
<circle cx="1219.5" cy="1444.7" r="4.3" fill="#fff" stroke="#b4b4b4" stroke-width="1.3"/>
<circle cx="1276.3" cy="1416" r="4.3" fill="#fff" stroke="#b4b4b4" stroke-width="1.3"/>
<circle cx="1276.3" cy="1436.7" r="4.3" fill="#fff" stroke="#b4b4b4" stroke-width="1.3"/>
<circle cx="1016.8" cy="1265.6" r="4.3" fill="#fff" stroke="#e8e8e8" stroke-width="1.3"/>
<circle cx="1275.4" cy="1429.6" r="4.3" fill="#fff" stroke="#e8e8e8" stroke-width="1.3"/>
<line x1="902.2" y1="1180.2" x2="902.2" y2="1457.3" stroke="#000" stroke-width="1.8"/>
<line x1="897.3" y1="1431.8" x2="1331.3" y2="1431.8" stroke="#555" stroke-width="1.6"/>
<line x1="896.9" y1="1180.2" x2="902.2" y2="1180.2" stroke="#000" stroke-width="1.6"/>
<line x1="896.9" y1="1264.3" x2="902.2" y2="1264.3" stroke="#000" stroke-width="1.6"/>
<line x1="896.9" y1="1348.3" x2="902.2" y2="1348.3" stroke="#000" stroke-width="1.6"/>
<text x="887.5" y="1197" font-size="27.5" text-anchor="end">30</text>
<text x="887.5" y="1278.2" font-size="27.5" text-anchor="end">20</text>
<text x="887.5" y="1359.4" font-size="27.5" text-anchor="end">10</text>
<text x="887.5" y="1440.1" font-size="27.5" text-anchor="end">0</text>
<path d="M955.1,1226.2 L955.1,1218.2 L1016.2,1218.2 L1016.2,1226.2" fill="none" stroke="#7d7d7d" stroke-width="1.15"/>
<path d="M1085.1,1400.3 L1085.1,1392.4 L1145.8,1392.4 L1145.8,1400.3" fill="none" stroke="#7d7d7d" stroke-width="1.15"/>
<path d="M1216.3,1400.3 L1216.3,1392.4 L1277.5,1392.4 L1277.5,1400.3" fill="none" stroke="#7d7d7d" stroke-width="1.15"/>
<text x="987.5" y="1216" font-size="32" font-weight="bold" text-anchor="middle" letter-spacing="4.5">**</text>
<text x="1093.3" y="1381.7" font-size="29.5">n.s.</text>
<text x="1224.6" y="1381.7" font-size="29.5">n.s.</text>
<text transform="translate(835.3,1412.4) rotate(-90)" font-size="28.5" letter-spacing="0.4">Peak ΔF/F<tspan font-size="19" dy="7">0</tspan><tspan dy="-7"> (%)</tspan></text>
<text x="770.1" y="1483.0">NET blocker</text>
<text x="958" y="1480.4" font-size="28" text-anchor="middle">-</text>
<text x="1012.9" y="1479.7" font-size="28" text-anchor="middle">+</text>
<text x="1086.2" y="1480.4" font-size="28" text-anchor="middle">-</text>
<text x="1141.4" y="1479.7" font-size="28" text-anchor="middle">+</text>
<text x="1219.9" y="1480.4" font-size="28" text-anchor="middle">-</text>
<text x="1274.9" y="1479.7" font-size="28" text-anchor="middle">+</text>
<line x1="940.3" y1="1487.3" x2="1037.2" y2="1487.3" stroke="#000" stroke-width="1.8"/>
<line x1="1068.3" y1="1487.7" x2="1165.3" y2="1487.7" stroke="#000" stroke-width="1.8"/>
<line x1="1205.1" y1="1487.7" x2="1302.2" y2="1487.7" stroke="#000" stroke-width="1.8"/>
<text x="952.2" y="1518.3">NE2m</text>
<text x="1073.2" y="1518.4">rDA3m</text>
<text x="1205.2" y="1518.4">gDA3h</text>
</svg>
</body></html>
